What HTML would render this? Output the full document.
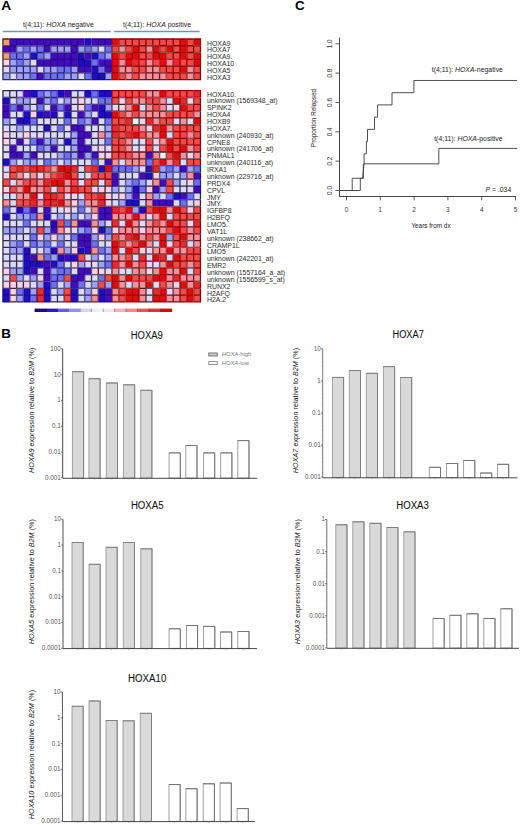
<!DOCTYPE html>
<html><head><meta charset="utf-8"><title>Figure</title>
<style>
html,body{margin:0;padding:0;background:#fff;}
body{width:520px;height:825px;overflow:hidden;font-family:"Liberation Sans", sans-serif;}
svg{display:block;font-family:"Liberation Sans", sans-serif;}
</style></head>
<body>
<svg width="520" height="825" viewBox="0 0 520 825">
<rect width="520" height="825" fill="#fff"/>
<text x="1.30" y="9.70" font-size="13.7" text-anchor="start" fill="#000" font-weight="bold" font-style="normal" >A</text>
<text x="23.00" y="27.20" font-size="6.9" text-anchor="start" fill="#222" font-weight="normal" font-style="normal" >t(4;11): <tspan font-style="italic">HOXA</tspan> negative</text>
<text x="123.00" y="27.20" font-size="6.9" text-anchor="start" fill="#222" font-weight="normal" font-style="normal" >t(4;11): <tspan font-style="italic">HOXA</tspan> positive</text>
<line x1="2.8" y1="31.5" x2="110.8" y2="31.5" stroke="#7d8fb4" stroke-width="1.3"/>
<line x1="114.2" y1="31.5" x2="199.6" y2="31.5" stroke="#7d8fb4" stroke-width="1.3"/>
<defs><filter id="hb" x="-2%" y="-2%" width="104%" height="104%"><feGaussianBlur stdDeviation="0.45"/></filter></defs>
<g filter="url(#hb)">
<path d="M2.30 38.35H9.76V45.76H2.30zM2.30 52.52H9.76V59.28H2.30z" fill="#611d00"/>
<path d="M9.76 38.35H16.57V45.76H9.76zM16.57 38.35H23.38V45.76H16.57zM23.38 38.35H30.19V45.76H23.38zM30.19 38.35H37.00V45.76H30.19zM37.00 38.35H43.81V45.76H37.00zM43.81 38.35H50.62V45.76H43.81zM50.62 38.35H57.43V45.76H50.62zM57.43 38.35H64.24V45.76H57.43zM64.24 38.35H71.05V45.76H64.24zM71.05 38.35H77.86V45.76H71.05zM77.86 38.35H84.67V45.76H77.86zM91.48 38.35H98.29V45.76H91.48zM98.29 38.35H105.10V45.76H98.29zM105.10 38.35H111.91V45.76H105.10zM2.30 45.76H9.76V52.52H2.30zM9.76 45.76H16.57V52.52H9.76zM43.81 45.76H50.62V52.52H43.81zM71.05 45.76H77.86V52.52H71.05zM50.62 52.52H57.43V59.28H50.62zM57.43 52.52H64.24V59.28H57.43zM64.24 52.52H71.05V59.28H64.24zM71.05 52.52H77.86V59.28H71.05zM84.67 52.52H91.48V59.28H84.67zM37.00 59.28H43.81V66.04H37.00zM43.81 59.28H50.62V66.04H43.81zM50.62 59.28H57.43V66.04H50.62zM57.43 59.28H64.24V66.04H57.43zM64.24 59.28H71.05V66.04H64.24zM71.05 59.28H77.86V66.04H71.05zM98.29 59.28H105.10V66.04H98.29zM105.10 59.28H111.91V66.04H105.10zM77.86 66.04H84.67V72.80H77.86zM84.67 66.04H91.48V72.80H84.67zM105.10 66.04H111.91V72.80H105.10zM37.00 72.80H43.81V80.21H37.00z" fill="#2d0191"/>
<path d="M84.67 38.35H91.48V45.76H84.67zM30.19 52.52H37.00V59.28H30.19zM77.86 52.52H84.67V59.28H77.86zM91.48 52.52H98.29V59.28H91.48zM77.86 59.28H84.67V66.04H77.86zM84.67 59.28H91.48V66.04H84.67zM91.48 66.04H98.29V72.80H91.48zM91.48 72.80H98.29V80.21H91.48zM98.29 72.80H105.10V80.21H98.29z" fill="#120496"/>
<path d="M111.91 38.35H118.72V45.76H111.91zM180.01 38.35H186.82V45.76H180.01zM193.63 38.35H201.09V45.76H193.63zM132.34 45.76H139.15V52.52H132.34zM152.77 45.76H159.58V52.52H152.77zM166.39 45.76H173.20V52.52H166.39zM180.01 45.76H186.82V52.52H180.01zM111.91 52.52H118.72V59.28H111.91zM125.53 52.52H132.34V59.28H125.53zM132.34 52.52H139.15V59.28H132.34zM152.77 52.52H159.58V59.28H152.77zM159.58 52.52H166.39V59.28H159.58zM180.01 52.52H186.82V59.28H180.01zM193.63 52.52H201.09V59.28H193.63zM111.91 59.28H118.72V66.04H111.91zM125.53 59.28H132.34V66.04H125.53zM159.58 59.28H166.39V66.04H159.58zM193.63 59.28H201.09V66.04H193.63zM111.91 66.04H118.72V72.80H111.91zM180.01 66.04H186.82V72.80H180.01zM111.91 72.80H118.72V80.21H111.91z" fill="#a90000"/>
<path d="M118.72 38.35H125.53V45.76H118.72zM125.53 38.35H132.34V45.76H125.53zM132.34 38.35H139.15V45.76H132.34zM139.15 38.35H145.96V45.76H139.15zM145.96 38.35H152.77V45.76H145.96zM152.77 38.35H159.58V45.76H152.77zM159.58 38.35H166.39V45.76H159.58zM166.39 38.35H173.20V45.76H166.39zM173.20 38.35H180.01V45.76H173.20zM186.82 38.35H193.63V45.76H186.82zM111.91 45.76H118.72V52.52H111.91zM125.53 45.76H132.34V52.52H125.53zM139.15 45.76H145.96V52.52H139.15zM159.58 45.76H166.39V52.52H159.58zM173.20 45.76H180.01V52.52H173.20zM186.82 45.76H193.63V52.52H186.82zM193.63 45.76H201.09V52.52H193.63zM118.72 52.52H125.53V59.28H118.72zM139.15 52.52H145.96V59.28H139.15zM145.96 52.52H152.77V59.28H145.96zM166.39 52.52H173.20V59.28H166.39zM173.20 52.52H180.01V59.28H173.20zM186.82 52.52H193.63V59.28H186.82zM139.15 59.28H145.96V66.04H139.15zM152.77 59.28H159.58V66.04H152.77zM180.01 59.28H186.82V66.04H180.01zM186.82 59.28H193.63V66.04H186.82zM132.34 66.04H139.15V72.80H132.34zM139.15 66.04H145.96V72.80H139.15zM159.58 66.04H166.39V72.80H159.58zM166.39 66.04H173.20V72.80H166.39zM173.20 66.04H180.01V72.80H173.20zM193.63 66.04H201.09V72.80H193.63zM118.72 72.80H125.53V80.21H118.72zM132.34 72.80H139.15V80.21H132.34zM166.39 72.80H173.20V80.21H166.39zM173.20 72.80H180.01V80.21H173.20zM180.01 72.80H186.82V80.21H180.01zM193.63 72.80H201.09V80.21H193.63z" fill="#8d0404"/>
<path d="M16.57 45.76H23.38V52.52H16.57zM30.19 45.76H37.00V52.52H30.19zM50.62 45.76H57.43V52.52H50.62zM57.43 45.76H64.24V52.52H57.43zM64.24 45.76H71.05V52.52H64.24zM77.86 45.76H84.67V52.52H77.86zM91.48 45.76H98.29V52.52H91.48zM23.38 52.52H30.19V59.28H23.38zM43.81 52.52H50.62V59.28H43.81zM105.10 52.52H111.91V59.28H105.10zM9.76 59.28H16.57V66.04H9.76zM23.38 59.28H30.19V66.04H23.38zM9.76 66.04H16.57V72.80H9.76zM16.57 66.04H23.38V72.80H16.57zM23.38 66.04H30.19V72.80H23.38zM30.19 66.04H37.00V72.80H30.19zM43.81 66.04H50.62V72.80H43.81zM50.62 66.04H57.43V72.80H50.62zM71.05 66.04H77.86V72.80H71.05zM2.30 72.80H9.76V80.21H2.30zM16.57 72.80H23.38V80.21H16.57zM23.38 72.80H30.19V80.21H23.38zM64.24 72.80H71.05V80.21H64.24zM71.05 72.80H77.86V80.21H71.05zM105.10 72.80H111.91V80.21H105.10z" fill="#25256e"/>
<path d="M23.38 45.76H30.19V52.52H23.38zM37.00 45.76H43.81V52.52H37.00zM84.67 45.76H91.48V52.52H84.67zM105.10 45.76H111.91V52.52H105.10zM9.76 52.52H16.57V59.28H9.76zM16.57 52.52H23.38V59.28H16.57zM37.00 52.52H43.81V59.28H37.00zM98.29 52.52H105.10V59.28H98.29zM16.57 59.28H23.38V66.04H16.57zM91.48 59.28H98.29V66.04H91.48zM57.43 66.04H64.24V72.80H57.43zM64.24 66.04H71.05V72.80H64.24zM98.29 66.04H105.10V72.80H98.29zM30.19 72.80H37.00V80.21H30.19zM43.81 72.80H50.62V80.21H43.81zM50.62 72.80H57.43V80.21H50.62zM57.43 72.80H64.24V80.21H57.43zM84.67 72.80H91.48V80.21H84.67z" fill="#21218c"/>
<path d="M98.29 45.76H105.10V52.52H98.29zM30.19 59.28H37.00V66.04H30.19zM2.30 66.04H9.76V72.80H2.30zM37.00 66.04H43.81V72.80H37.00zM9.76 72.80H16.57V80.21H9.76zM77.86 72.80H84.67V80.21H77.86z" fill="#2b2945"/>
<path d="M118.72 45.76H125.53V52.52H118.72zM145.96 45.76H152.77V52.52H145.96zM118.72 59.28H125.53V66.04H118.72zM145.96 59.28H152.77V66.04H145.96zM166.39 59.28H173.20V66.04H166.39zM118.72 66.04H125.53V72.80H118.72zM125.53 66.04H132.34V72.80H125.53zM145.96 66.04H152.77V72.80H145.96zM152.77 66.04H159.58V72.80H152.77zM186.82 66.04H193.63V72.80H186.82zM125.53 72.80H132.34V80.21H125.53zM139.15 72.80H145.96V80.21H139.15zM145.96 72.80H152.77V80.21H145.96zM152.77 72.80H159.58V80.21H152.77zM159.58 72.80H166.39V80.21H159.58zM186.82 72.80H193.63V80.21H186.82z" fill="#68131b"/>
<path d="M2.30 59.28H9.76V66.04H2.30z" fill="#402236"/>
<path d="M132.34 59.28H139.15V66.04H132.34zM173.20 59.28H180.01V66.04H173.20z" fill="#9b0001"/>
<path d="M3.60 39.65H9.11V45.11H3.60zM3.60 53.17H9.11V58.63H3.60z" fill="#f0a070"/>
<path d="M10.41 39.65H15.92V45.11H10.41zM17.22 39.65H22.73V45.11H17.22zM24.03 39.65H29.54V45.11H24.03zM30.84 39.65H36.35V45.11H30.84zM37.65 39.65H43.16V45.11H37.65zM44.46 39.65H49.97V45.11H44.46zM51.27 39.65H56.78V45.11H51.27zM58.08 39.65H63.59V45.11H58.08zM64.89 39.65H70.40V45.11H64.89zM71.70 39.65H77.21V45.11H71.70zM78.51 39.65H84.02V45.11H78.51zM92.13 39.65H97.64V45.11H92.13zM98.94 39.65H104.45V45.11H98.94zM105.75 39.65H111.26V45.11H105.75zM3.60 46.41H9.11V51.87H3.60zM10.41 46.41H15.92V51.87H10.41zM44.46 46.41H49.97V51.87H44.46zM71.70 46.41H77.21V51.87H71.70zM51.27 53.17H56.78V58.63H51.27zM58.08 53.17H63.59V58.63H58.08zM64.89 53.17H70.40V58.63H64.89zM71.70 53.17H77.21V58.63H71.70zM85.32 53.17H90.83V58.63H85.32zM37.65 59.93H43.16V65.39H37.65zM44.46 59.93H49.97V65.39H44.46zM51.27 59.93H56.78V65.39H51.27zM58.08 59.93H63.59V65.39H58.08zM64.89 59.93H70.40V65.39H64.89zM71.70 59.93H77.21V65.39H71.70zM98.94 59.93H104.45V65.39H98.94zM105.75 59.93H111.26V65.39H105.75zM78.51 66.69H84.02V72.15H78.51zM85.32 66.69H90.83V72.15H85.32zM105.75 66.69H111.26V72.15H105.75zM37.65 73.45H43.16V78.91H37.65z" fill="#420fb8"/>
<path d="M85.32 39.65H90.83V45.11H85.32zM30.84 53.17H36.35V58.63H30.84zM78.51 53.17H84.02V58.63H78.51zM92.13 53.17H97.64V58.63H92.13zM78.51 59.93H84.02V65.39H78.51zM85.32 59.93H90.83V65.39H85.32zM92.13 66.69H97.64V72.15H92.13zM92.13 73.45H97.64V78.91H92.13zM98.94 73.45H104.45V78.91H98.94z" fill="#2010bc"/>
<path d="M112.56 39.65H118.07V45.11H112.56zM180.66 39.65H186.17V45.11H180.66zM194.28 39.65H199.79V45.11H194.28zM132.99 46.41H138.50V51.87H132.99zM153.42 46.41H158.93V51.87H153.42zM167.04 46.41H172.55V51.87H167.04zM180.66 46.41H186.17V51.87H180.66zM112.56 53.17H118.07V58.63H112.56zM126.18 53.17H131.69V58.63H126.18zM132.99 53.17H138.50V58.63H132.99zM153.42 53.17H158.93V58.63H153.42zM160.23 53.17H165.74V58.63H160.23zM180.66 53.17H186.17V58.63H180.66zM194.28 53.17H199.79V58.63H194.28zM112.56 59.93H118.07V65.39H112.56zM126.18 59.93H131.69V65.39H126.18zM160.23 59.93H165.74V65.39H160.23zM194.28 59.93H199.79V65.39H194.28zM112.56 66.69H118.07V72.15H112.56zM180.66 66.69H186.17V72.15H180.66zM112.56 73.45H118.07V78.91H112.56z" fill="#dc0c10"/>
<path d="M119.37 39.65H124.88V45.11H119.37zM126.18 39.65H131.69V45.11H126.18zM132.99 39.65H138.50V45.11H132.99zM139.80 39.65H145.31V45.11H139.80zM146.61 39.65H152.12V45.11H146.61zM153.42 39.65H158.93V45.11H153.42zM160.23 39.65H165.74V45.11H160.23zM167.04 39.65H172.55V45.11H167.04zM173.85 39.65H179.36V45.11H173.85zM187.47 39.65H192.98V45.11H187.47zM112.56 46.41H118.07V51.87H112.56zM126.18 46.41H131.69V51.87H126.18zM139.80 46.41H145.31V51.87H139.80zM160.23 46.41H165.74V51.87H160.23zM173.85 46.41H179.36V51.87H173.85zM187.47 46.41H192.98V51.87H187.47zM194.28 46.41H199.79V51.87H194.28zM119.37 53.17H124.88V58.63H119.37zM139.80 53.17H145.31V58.63H139.80zM146.61 53.17H152.12V58.63H146.61zM167.04 53.17H172.55V58.63H167.04zM173.85 53.17H179.36V58.63H173.85zM187.47 53.17H192.98V58.63H187.47zM139.80 59.93H145.31V65.39H139.80zM153.42 59.93H158.93V65.39H153.42zM180.66 59.93H186.17V65.39H180.66zM187.47 59.93H192.98V65.39H187.47zM132.99 66.69H138.50V72.15H132.99zM139.80 66.69H145.31V72.15H139.80zM160.23 66.69H165.74V72.15H160.23zM167.04 66.69H172.55V72.15H167.04zM173.85 66.69H179.36V72.15H173.85zM194.28 66.69H199.79V72.15H194.28zM119.37 73.45H124.88V78.91H119.37zM132.99 73.45H138.50V78.91H132.99zM167.04 73.45H172.55V78.91H167.04zM173.85 73.45H179.36V78.91H173.85zM180.66 73.45H186.17V78.91H180.66zM194.28 73.45H199.79V78.91H194.28z" fill="#ee4c4c"/>
<path d="M17.22 46.41H22.73V51.87H17.22zM30.84 46.41H36.35V51.87H30.84zM51.27 46.41H56.78V51.87H51.27zM58.08 46.41H63.59V51.87H58.08zM64.89 46.41H70.40V51.87H64.89zM78.51 46.41H84.02V51.87H78.51zM92.13 46.41H97.64V51.87H92.13zM24.03 53.17H29.54V58.63H24.03zM44.46 53.17H49.97V58.63H44.46zM105.75 53.17H111.26V58.63H105.75zM10.41 59.93H15.92V65.39H10.41zM24.03 59.93H29.54V65.39H24.03zM10.41 66.69H15.92V72.15H10.41zM17.22 66.69H22.73V72.15H17.22zM24.03 66.69H29.54V72.15H24.03zM30.84 66.69H36.35V72.15H30.84zM44.46 66.69H49.97V72.15H44.46zM51.27 66.69H56.78V72.15H51.27zM71.70 66.69H77.21V72.15H71.70zM3.60 73.45H9.11V78.91H3.60zM17.22 73.45H22.73V78.91H17.22zM24.03 73.45H29.54V78.91H24.03zM64.89 73.45H70.40V78.91H64.89zM71.70 73.45H77.21V78.91H71.70zM105.75 73.45H111.26V78.91H105.75z" fill="#a0a0f6"/>
<path d="M24.03 46.41H29.54V51.87H24.03zM37.65 46.41H43.16V51.87H37.65zM85.32 46.41H90.83V51.87H85.32zM105.75 46.41H111.26V51.87H105.75zM10.41 53.17H15.92V58.63H10.41zM17.22 53.17H22.73V58.63H17.22zM37.65 53.17H43.16V58.63H37.65zM98.94 53.17H104.45V58.63H98.94zM17.22 59.93H22.73V65.39H17.22zM92.13 59.93H97.64V65.39H92.13zM58.08 66.69H63.59V72.15H58.08zM64.89 66.69H70.40V72.15H64.89zM98.94 66.69H104.45V72.15H98.94zM30.84 73.45H36.35V78.91H30.84zM44.46 73.45H49.97V78.91H44.46zM51.27 73.45H56.78V78.91H51.27zM58.08 73.45H63.59V78.91H58.08zM85.32 73.45H90.83V78.91H85.32z" fill="#7070ee"/>
<path d="M98.94 46.41H104.45V51.87H98.94zM30.84 59.93H36.35V65.39H30.84zM3.60 66.69H9.11V72.15H3.60zM37.65 66.69H43.16V72.15H37.65zM10.41 73.45H15.92V78.91H10.41zM78.51 73.45H84.02V78.91H78.51z" fill="#dcdafa"/>
<path d="M119.37 46.41H124.88V51.87H119.37zM146.61 46.41H152.12V51.87H146.61zM119.37 59.93H124.88V65.39H119.37zM146.61 59.93H152.12V65.39H146.61zM167.04 59.93H172.55V65.39H167.04zM119.37 66.69H124.88V72.15H119.37zM126.18 66.69H131.69V72.15H126.18zM146.61 66.69H152.12V72.15H146.61zM153.42 66.69H158.93V72.15H153.42zM187.47 66.69H192.98V72.15H187.47zM126.18 73.45H131.69V78.91H126.18zM139.80 73.45H145.31V78.91H139.80zM146.61 73.45H152.12V78.91H146.61zM153.42 73.45H158.93V78.91H153.42zM160.23 73.45H165.74V78.91H160.23zM187.47 73.45H192.98V78.91H187.47z" fill="#f4909a"/>
<path d="M3.60 59.93H9.11V65.39H3.60z" fill="#f6d2ea"/>
<path d="M132.99 59.93H138.50V65.39H132.99zM173.85 59.93H179.36V65.39H173.85z" fill="#e42a2e"/>
<path d="M2.30 90.05H9.76V97.51H2.30zM9.76 90.05H16.57V97.51H9.76zM16.57 90.05H23.38V97.51H16.57zM71.05 90.05H77.86V97.51H71.05zM77.86 90.05H84.67V97.51H77.86zM9.76 97.51H16.57V104.33H9.76zM30.19 97.51H37.00V104.33H30.19zM57.43 97.51H64.24V104.33H57.43zM71.05 97.51H77.86V104.33H71.05zM84.67 97.51H91.48V104.33H84.67zM91.48 97.51H98.29V104.33H91.48zM166.39 97.51H173.20V104.33H166.39zM30.19 104.33H37.00V111.14H30.19zM43.81 104.33H50.62V111.14H43.81zM71.05 104.33H77.86V111.14H71.05zM139.15 104.33H145.96V111.14H139.15zM166.39 104.33H173.20V111.14H166.39zM9.76 111.14H16.57V117.95H9.76zM16.57 111.14H23.38V117.95H16.57zM57.43 111.14H64.24V117.95H57.43zM71.05 111.14H77.86V117.95H71.05zM91.48 111.14H98.29V117.95H91.48zM9.76 117.95H16.57V124.77H9.76zM37.00 117.95H43.81V124.77H37.00zM43.81 117.95H50.62V124.77H43.81zM50.62 117.95H57.43V124.77H50.62zM57.43 117.95H64.24V124.77H57.43zM71.05 117.95H77.86V124.77H71.05zM98.29 117.95H105.10V124.77H98.29zM2.30 124.77H9.76V131.58H2.30zM9.76 124.77H16.57V131.58H9.76zM23.38 124.77H30.19V131.58H23.38zM30.19 124.77H37.00V131.58H30.19zM37.00 124.77H43.81V131.58H37.00zM50.62 124.77H57.43V131.58H50.62zM64.24 124.77H71.05V131.58H64.24zM84.67 124.77H91.48V131.58H84.67zM91.48 124.77H98.29V131.58H91.48zM98.29 124.77H105.10V131.58H98.29zM9.76 131.58H16.57V138.39H9.76zM16.57 131.58H23.38V138.39H16.57zM30.19 131.58H37.00V138.39H30.19zM37.00 131.58H43.81V138.39H37.00zM43.81 131.58H50.62V138.39H43.81zM50.62 131.58H57.43V138.39H50.62zM57.43 131.58H64.24V138.39H57.43zM64.24 131.58H71.05V138.39H64.24zM91.48 131.58H98.29V138.39H91.48zM166.39 131.58H173.20V138.39H166.39zM9.76 138.39H16.57V145.20H9.76zM23.38 138.39H30.19V145.20H23.38zM57.43 138.39H64.24V145.20H57.43zM84.67 138.39H91.48V145.20H84.67zM91.48 138.39H98.29V145.20H91.48zM98.29 138.39H105.10V145.20H98.29zM132.34 138.39H139.15V145.20H132.34zM139.15 138.39H145.96V145.20H139.15zM2.30 145.20H9.76V152.02H2.30zM16.57 145.20H23.38V152.02H16.57zM23.38 145.20H30.19V152.02H23.38zM30.19 145.20H37.00V152.02H30.19zM57.43 145.20H64.24V152.02H57.43zM64.24 145.20H71.05V152.02H64.24zM91.48 145.20H98.29V152.02H91.48zM105.10 145.20H111.91V152.02H105.10zM132.34 145.20H139.15V152.02H132.34zM152.77 145.20H159.58V152.02H152.77zM2.30 152.02H9.76V158.83H2.30zM37.00 152.02H43.81V158.83H37.00zM43.81 152.02H50.62V158.83H43.81zM50.62 152.02H57.43V158.83H50.62zM16.57 158.83H23.38V165.64H16.57zM37.00 158.83H43.81V165.64H37.00zM57.43 158.83H64.24V165.64H57.43zM71.05 158.83H77.86V165.64H71.05zM77.86 158.83H84.67V165.64H77.86zM84.67 158.83H91.48V165.64H84.67zM98.29 158.83H105.10V165.64H98.29zM118.72 158.83H125.53V165.64H118.72zM180.01 158.83H186.82V165.64H180.01zM2.30 165.64H9.76V172.46H2.30zM77.86 165.64H84.67V172.46H77.86zM139.15 165.64H145.96V172.46H139.15zM77.86 172.46H84.67V179.27H77.86zM118.72 172.46H125.53V179.27H118.72zM125.53 172.46H132.34V179.27H125.53zM132.34 172.46H139.15V179.27H132.34zM173.20 172.46H180.01V179.27H173.20zM9.76 179.27H16.57V186.08H9.76zM77.86 179.27H84.67V186.08H77.86zM98.29 179.27H105.10V186.08H98.29zM118.72 179.27H125.53V186.08H118.72zM145.96 179.27H152.77V186.08H145.96zM180.01 179.27H186.82V186.08H180.01zM50.62 186.08H57.43V192.89H50.62zM91.48 186.08H98.29V192.89H91.48zM118.72 186.08H125.53V192.89H118.72zM173.20 186.08H180.01V192.89H173.20zM180.01 186.08H186.82V192.89H180.01zM186.82 186.08H193.63V192.89H186.82zM2.30 192.89H9.76V199.71H2.30zM9.76 192.89H16.57V199.71H9.76zM77.86 192.89H84.67V199.71H77.86zM111.91 192.89H118.72V199.71H111.91zM139.15 192.89H145.96V199.71H139.15zM159.58 192.89H166.39V199.71H159.58zM193.63 192.89H201.09V199.71H193.63zM9.76 199.71H16.57V206.52H9.76zM111.91 199.71H118.72V206.52H111.91zM139.15 199.71H145.96V206.52H139.15zM173.20 199.71H180.01V206.52H173.20zM186.82 199.71H193.63V206.52H186.82zM9.76 206.52H16.57V213.33H9.76zM37.00 206.52H43.81V213.33H37.00zM50.62 206.52H57.43V213.33H50.62zM57.43 206.52H64.24V213.33H57.43zM71.05 206.52H77.86V213.33H71.05zM84.67 206.52H91.48V213.33H84.67zM9.76 213.33H16.57V220.15H9.76zM50.62 213.33H57.43V220.15H50.62zM64.24 213.33H71.05V220.15H64.24zM77.86 213.33H84.67V220.15H77.86zM145.96 213.33H152.77V220.15H145.96zM166.39 213.33H173.20V220.15H166.39zM2.30 220.15H9.76V226.96H2.30zM9.76 220.15H16.57V226.96H9.76zM16.57 220.15H23.38V226.96H16.57zM30.19 220.15H37.00V226.96H30.19zM37.00 220.15H43.81V226.96H37.00zM43.81 220.15H50.62V226.96H43.81zM105.10 220.15H111.91V226.96H105.10zM118.72 220.15H125.53V226.96H118.72zM139.15 220.15H145.96V226.96H139.15zM23.38 226.96H30.19V233.77H23.38zM71.05 226.96H77.86V233.77H71.05zM2.30 233.77H9.76V240.59H2.30zM9.76 233.77H16.57V240.59H9.76zM16.57 233.77H23.38V240.59H16.57zM23.38 233.77H30.19V240.59H23.38zM64.24 233.77H71.05V240.59H64.24zM2.30 240.59H9.76V247.40H2.30zM23.38 240.59H30.19V247.40H23.38zM50.62 240.59H57.43V247.40H50.62zM64.24 240.59H71.05V247.40H64.24zM71.05 240.59H77.86V247.40H71.05zM98.29 240.59H105.10V247.40H98.29zM105.10 240.59H111.91V247.40H105.10zM152.77 240.59H159.58V247.40H152.77zM186.82 240.59H193.63V247.40H186.82zM2.30 247.40H9.76V254.21H2.30zM30.19 247.40H37.00V254.21H30.19zM37.00 247.40H43.81V254.21H37.00zM118.72 247.40H125.53V254.21H118.72zM2.30 254.21H9.76V261.02H2.30zM9.76 254.21H16.57V261.02H9.76zM16.57 254.21H23.38V261.02H16.57zM84.67 254.21H91.48V261.02H84.67zM98.29 254.21H105.10V261.02H98.29zM132.34 254.21H139.15V261.02H132.34zM145.96 254.21H152.77V261.02H145.96zM166.39 254.21H173.20V261.02H166.39zM2.30 261.02H9.76V267.84H2.30zM9.76 261.02H16.57V267.84H9.76zM16.57 261.02H23.38V267.84H16.57zM64.24 261.02H71.05V267.84H64.24zM84.67 261.02H91.48V267.84H84.67zM91.48 261.02H98.29V267.84H91.48zM152.77 261.02H159.58V267.84H152.77zM37.00 267.84H43.81V274.65H37.00zM71.05 267.84H77.86V274.65H71.05zM105.10 267.84H111.91V274.65H105.10zM125.53 267.84H132.34V274.65H125.53zM186.82 267.84H193.63V274.65H186.82zM2.30 274.65H9.76V281.46H2.30zM23.38 274.65H30.19V281.46H23.38zM84.67 274.65H91.48V281.46H84.67zM91.48 274.65H98.29V281.46H91.48zM30.19 281.46H37.00V288.28H30.19zM57.43 281.46H64.24V288.28H57.43zM84.67 281.46H91.48V288.28H84.67zM125.53 281.46H132.34V288.28H125.53zM152.77 281.46H159.58V288.28H152.77zM50.62 288.28H57.43V295.09H50.62zM77.86 288.28H84.67V295.09H77.86zM145.96 288.28H152.77V295.09H145.96zM50.62 295.09H57.43V302.55H50.62zM57.43 295.09H64.24V302.55H57.43zM77.86 295.09H84.67V302.55H77.86zM145.96 295.09H152.77V302.55H145.96z" fill="#2b2945"/>
<path d="M23.38 90.05H30.19V97.51H23.38zM64.24 90.05H71.05V97.51H64.24zM37.00 97.51H43.81V104.33H37.00zM2.30 104.33H9.76V111.14H2.30zM16.57 104.33H23.38V111.14H16.57zM50.62 104.33H57.43V111.14H50.62zM64.24 104.33H71.05V111.14H64.24zM91.48 104.33H98.29V111.14H91.48zM2.30 111.14H9.76V117.95H2.30zM43.81 111.14H50.62V117.95H43.81zM77.86 111.14H84.67V117.95H77.86zM91.48 117.95H98.29V124.77H91.48zM71.05 124.77H77.86V131.58H71.05zM77.86 124.77H84.67V131.58H77.86zM77.86 131.58H84.67V138.39H77.86zM84.67 131.58H91.48V138.39H84.67zM16.57 138.39H23.38V145.20H16.57zM37.00 138.39H43.81V145.20H37.00zM77.86 138.39H84.67V145.20H77.86zM9.76 145.20H16.57V152.02H9.76zM50.62 145.20H57.43V152.02H50.62zM77.86 145.20H84.67V152.02H77.86zM84.67 145.20H91.48V152.02H84.67zM9.76 152.02H16.57V158.83H9.76zM16.57 152.02H23.38V158.83H16.57zM30.19 152.02H37.00V158.83H30.19zM77.86 152.02H84.67V158.83H77.86zM91.48 152.02H98.29V158.83H91.48zM145.96 152.02H152.77V158.83H145.96zM105.10 158.83H111.91V165.64H105.10zM145.96 165.64H152.77V172.46H145.96zM180.01 165.64H186.82V172.46H180.01zM111.91 172.46H118.72V179.27H111.91zM139.15 172.46H145.96V179.27H139.15zM193.63 172.46H201.09V179.27H193.63zM111.91 179.27H118.72V186.08H111.91zM159.58 179.27H166.39V186.08H159.58zM152.77 186.08H159.58V192.89H152.77zM193.63 186.08H201.09V192.89H193.63zM132.34 192.89H139.15V199.71H132.34zM180.01 192.89H186.82V199.71H180.01zM152.77 199.71H159.58V206.52H152.77zM159.58 199.71H166.39V206.52H159.58zM166.39 199.71H173.20V206.52H166.39zM30.19 206.52H37.00V213.33H30.19zM43.81 206.52H50.62V213.33H43.81zM98.29 206.52H105.10V213.33H98.29zM105.10 206.52H111.91V213.33H105.10zM98.29 213.33H105.10V220.15H98.29zM105.10 213.33H111.91V220.15H105.10zM77.86 220.15H84.67V226.96H77.86zM84.67 220.15H91.48V226.96H84.67zM50.62 226.96H57.43V233.77H50.62zM77.86 233.77H84.67V240.59H77.86zM84.67 233.77H91.48V240.59H84.67zM77.86 240.59H84.67V247.40H77.86zM84.67 240.59H91.48V247.40H84.67zM84.67 247.40H91.48V254.21H84.67zM30.19 254.21H37.00V261.02H30.19zM64.24 254.21H71.05V261.02H64.24zM43.81 261.02H50.62V267.84H43.81zM30.19 267.84H37.00V274.65H30.19zM43.81 267.84H50.62V274.65H43.81zM77.86 267.84H84.67V274.65H77.86zM84.67 267.84H91.48V274.65H84.67zM43.81 274.65H50.62V281.46H43.81zM71.05 274.65H77.86V281.46H71.05zM77.86 274.65H84.67V281.46H77.86zM71.05 281.46H77.86V288.28H71.05zM105.10 288.28H111.91V295.09H105.10zM105.10 295.09H111.91V302.55H105.10z" fill="#2d0191"/>
<path d="M30.19 90.05H37.00V97.51H30.19zM57.43 90.05H64.24V97.51H57.43zM84.67 90.05H91.48V97.51H84.67zM98.29 90.05H105.10V97.51H98.29zM105.10 90.05H111.91V97.51H105.10zM2.30 97.51H9.76V104.33H2.30zM98.29 104.33H105.10V111.14H98.29zM23.38 111.14H30.19V117.95H23.38zM37.00 111.14H43.81V117.95H37.00zM50.62 111.14H57.43V117.95H50.62zM64.24 111.14H71.05V117.95H64.24zM98.29 111.14H105.10V117.95H98.29zM105.10 111.14H111.91V117.95H105.10zM16.57 117.95H23.38V124.77H16.57zM23.38 117.95H30.19V124.77H23.38zM43.81 124.77H50.62V131.58H43.81zM64.24 138.39H71.05V145.20H64.24zM2.30 158.83H9.76V165.64H2.30zM98.29 165.64H105.10V172.46H98.29zM145.96 172.46H152.77V179.27H145.96zM132.34 186.08H139.15V192.89H132.34zM173.20 192.89H180.01V199.71H173.20zM125.53 199.71H132.34V206.52H125.53zM132.34 199.71H139.15V206.52H132.34zM16.57 206.52H23.38V213.33H16.57zM139.15 206.52H145.96V213.33H139.15zM2.30 213.33H9.76V220.15H2.30zM43.81 213.33H50.62V220.15H43.81zM50.62 220.15H57.43V226.96H50.62zM98.29 226.96H105.10V233.77H98.29zM23.38 247.40H30.19V254.21H23.38zM50.62 247.40H57.43V254.21H50.62zM77.86 247.40H84.67V254.21H77.86zM23.38 254.21H30.19V261.02H23.38zM57.43 254.21H64.24V261.02H57.43zM71.05 254.21H77.86V261.02H71.05zM23.38 261.02H30.19V267.84H23.38zM30.19 261.02H37.00V267.84H30.19zM37.00 261.02H43.81V267.84H37.00zM50.62 261.02H57.43V267.84H50.62zM23.38 267.84H30.19V274.65H23.38zM43.81 281.46H50.62V288.28H43.81zM2.30 288.28H9.76V295.09H2.30zM23.38 288.28H30.19V295.09H23.38zM43.81 288.28H50.62V295.09H43.81zM71.05 288.28H77.86V295.09H71.05zM98.29 288.28H105.10V295.09H98.29zM2.30 295.09H9.76V302.55H2.30zM23.38 295.09H30.19V302.55H23.38zM43.81 295.09H50.62V302.55H43.81zM71.05 295.09H77.86V302.55H71.05zM98.29 295.09H105.10V302.55H98.29z" fill="#120496"/>
<path d="M37.00 90.05H43.81V97.51H37.00zM50.62 90.05H57.43V97.51H50.62zM91.48 90.05H98.29V97.51H91.48zM50.62 97.51H57.43V104.33H50.62zM98.29 97.51H105.10V104.33H98.29zM105.10 97.51H111.91V104.33H105.10zM9.76 104.33H16.57V111.14H9.76zM37.00 104.33H43.81V111.14H37.00zM57.43 104.33H64.24V111.14H57.43zM84.67 104.33H91.48V111.14H84.67zM30.19 117.95H37.00V124.77H30.19zM64.24 117.95H71.05V124.77H64.24zM77.86 117.95H84.67V124.77H77.86zM105.10 117.95H111.91V124.77H105.10zM57.43 124.77H64.24V131.58H57.43zM30.19 138.39H37.00V145.20H30.19zM105.10 138.39H111.91V145.20H105.10zM37.00 145.20H43.81V152.02H37.00zM64.24 152.02H71.05V158.83H64.24zM43.81 158.83H50.62V165.64H43.81zM91.48 158.83H98.29V165.64H91.48zM145.96 158.83H152.77V165.64H145.96zM111.91 165.64H118.72V172.46H111.91zM118.72 165.64H125.53V172.46H118.72zM125.53 165.64H132.34V172.46H125.53zM166.39 165.64H173.20V172.46H166.39zM193.63 165.64H201.09V172.46H193.63zM132.34 179.27H139.15V186.08H132.34zM193.63 179.27H201.09V186.08H193.63zM139.15 186.08H145.96V192.89H139.15zM166.39 192.89H173.20V199.71H166.39zM186.82 192.89H193.63V199.71H186.82zM180.01 199.71H186.82V206.52H180.01zM2.30 206.52H9.76V213.33H2.30zM23.38 206.52H30.19V213.33H23.38zM77.86 206.52H84.67V213.33H77.86zM30.19 213.33H37.00V220.15H30.19zM23.38 220.15H30.19V226.96H23.38zM64.24 220.15H71.05V226.96H64.24zM84.67 226.96H91.48V233.77H84.67zM105.10 226.96H111.91V233.77H105.10zM30.19 233.77H37.00V240.59H30.19zM71.05 233.77H77.86V240.59H71.05zM16.57 240.59H23.38V247.40H16.57zM30.19 240.59H37.00V247.40H30.19zM43.81 240.59H50.62V247.40H43.81zM57.43 240.59H64.24V247.40H57.43zM91.48 240.59H98.29V247.40H91.48zM98.29 247.40H105.10V254.21H98.29zM43.81 254.21H50.62V261.02H43.81zM57.43 261.02H64.24V267.84H57.43zM105.10 261.02H111.91V267.84H105.10zM57.43 267.84H64.24V274.65H57.43zM64.24 267.84H71.05V274.65H64.24zM50.62 274.65H57.43V281.46H50.62zM57.43 274.65H64.24V281.46H57.43zM98.29 274.65H105.10V281.46H98.29zM50.62 281.46H57.43V288.28H50.62zM77.86 281.46H84.67V288.28H77.86zM16.57 288.28H23.38V295.09H16.57zM30.19 295.09H37.00V302.55H30.19z" fill="#21218c"/>
<path d="M43.81 90.05H50.62V97.51H43.81zM16.57 97.51H23.38V104.33H16.57zM23.38 97.51H30.19V104.33H23.38zM43.81 97.51H50.62V104.33H43.81zM64.24 97.51H71.05V104.33H64.24zM23.38 104.33H30.19V111.14H23.38zM105.10 104.33H111.91V111.14H105.10zM84.67 111.14H91.48V117.95H84.67zM2.30 117.95H9.76V124.77H2.30zM84.67 117.95H91.48V124.77H84.67zM16.57 124.77H23.38V131.58H16.57zM105.10 124.77H111.91V131.58H105.10zM71.05 131.58H77.86V138.39H71.05zM105.10 131.58H111.91V138.39H105.10zM43.81 138.39H50.62V145.20H43.81zM50.62 138.39H57.43V145.20H50.62zM71.05 138.39H77.86V145.20H71.05zM43.81 145.20H50.62V152.02H43.81zM71.05 145.20H77.86V152.02H71.05zM23.38 152.02H30.19V158.83H23.38zM57.43 152.02H64.24V158.83H57.43zM71.05 152.02H77.86V158.83H71.05zM84.67 152.02H91.48V158.83H84.67zM9.76 158.83H16.57V165.64H9.76zM23.38 158.83H30.19V165.64H23.38zM30.19 158.83H37.00V165.64H30.19zM50.62 158.83H57.43V165.64H50.62zM64.24 158.83H71.05V165.64H64.24zM132.34 165.64H139.15V172.46H132.34zM159.58 165.64H166.39V172.46H159.58zM173.20 165.64H180.01V172.46H173.20zM186.82 165.64H193.63V172.46H186.82zM159.58 172.46H166.39V179.27H159.58zM166.39 172.46H173.20V179.27H166.39zM180.01 172.46H186.82V179.27H180.01zM125.53 179.27H132.34V186.08H125.53zM139.15 179.27H145.96V186.08H139.15zM173.20 179.27H180.01V186.08H173.20zM111.91 186.08H118.72V192.89H111.91zM125.53 186.08H132.34V192.89H125.53zM159.58 186.08H166.39V192.89H159.58zM125.53 192.89H132.34V199.71H125.53zM152.77 192.89H159.58V199.71H152.77zM77.86 199.71H84.67V206.52H77.86zM118.72 199.71H125.53V206.52H118.72zM132.34 206.52H139.15V213.33H132.34zM16.57 213.33H23.38V220.15H16.57zM23.38 213.33H30.19V220.15H23.38zM57.43 213.33H64.24V220.15H57.43zM71.05 213.33H77.86V220.15H71.05zM84.67 213.33H91.48V220.15H84.67zM98.29 220.15H105.10V226.96H98.29zM2.30 226.96H9.76V233.77H2.30zM9.76 226.96H16.57V233.77H9.76zM16.57 226.96H23.38V233.77H16.57zM30.19 226.96H37.00V233.77H30.19zM43.81 226.96H50.62V233.77H43.81zM77.86 226.96H84.67V233.77H77.86zM43.81 233.77H50.62V240.59H43.81zM57.43 233.77H64.24V240.59H57.43zM91.48 233.77H98.29V240.59H91.48zM105.10 233.77H111.91V240.59H105.10zM166.39 233.77H173.20V240.59H166.39zM9.76 240.59H16.57V247.40H9.76zM37.00 240.59H43.81V247.40H37.00zM9.76 247.40H16.57V254.21H9.76zM16.57 247.40H23.38V254.21H16.57zM43.81 247.40H50.62V254.21H43.81zM64.24 247.40H71.05V254.21H64.24zM105.10 247.40H111.91V254.21H105.10zM50.62 254.21H57.43V261.02H50.62zM91.48 254.21H98.29V261.02H91.48zM105.10 254.21H111.91V261.02H105.10zM77.86 261.02H84.67V267.84H77.86zM98.29 261.02H105.10V267.84H98.29zM9.76 267.84H16.57V274.65H9.76zM16.57 267.84H23.38V274.65H16.57zM50.62 267.84H57.43V274.65H50.62zM16.57 274.65H23.38V281.46H16.57zM30.19 274.65H37.00V281.46H30.19zM37.00 281.46H43.81V288.28H37.00zM64.24 281.46H71.05V288.28H64.24zM91.48 281.46H98.29V288.28H91.48zM105.10 281.46H111.91V288.28H105.10zM30.19 288.28H37.00V295.09H30.19zM57.43 288.28H64.24V295.09H57.43zM84.67 288.28H91.48V295.09H84.67zM16.57 295.09H23.38V302.55H16.57zM84.67 295.09H91.48V302.55H84.67z" fill="#25256e"/>
<path d="M111.91 90.05H118.72V97.51H111.91zM118.72 90.05H125.53V97.51H118.72zM125.53 90.05H132.34V97.51H125.53zM132.34 90.05H139.15V97.51H132.34zM139.15 90.05H145.96V97.51H139.15zM166.39 90.05H173.20V97.51H166.39zM173.20 90.05H180.01V97.51H173.20zM180.01 90.05H186.82V97.51H180.01zM186.82 90.05H193.63V97.51H186.82zM111.91 97.51H118.72V104.33H111.91zM125.53 97.51H132.34V104.33H125.53zM145.96 97.51H152.77V104.33H145.96zM152.77 97.51H159.58V104.33H152.77zM193.63 97.51H201.09V104.33H193.63zM152.77 104.33H159.58V111.14H152.77zM186.82 104.33H193.63V111.14H186.82zM193.63 104.33H201.09V111.14H193.63zM118.72 111.14H125.53V117.95H118.72zM132.34 111.14H139.15V117.95H132.34zM166.39 111.14H173.20V117.95H166.39zM173.20 111.14H180.01V117.95H173.20zM180.01 111.14H186.82V117.95H180.01zM186.82 111.14H193.63V117.95H186.82zM111.91 117.95H118.72V124.77H111.91zM118.72 117.95H125.53V124.77H118.72zM159.58 117.95H166.39V124.77H159.58zM166.39 117.95H173.20V124.77H166.39zM118.72 124.77H125.53V131.58H118.72zM125.53 124.77H132.34V131.58H125.53zM132.34 124.77H139.15V131.58H132.34zM173.20 124.77H180.01V131.58H173.20zM180.01 124.77H186.82V131.58H180.01zM186.82 124.77H193.63V131.58H186.82zM193.63 124.77H201.09V131.58H193.63zM118.72 131.58H125.53V138.39H118.72zM139.15 131.58H145.96V138.39H139.15zM173.20 131.58H180.01V138.39H173.20zM180.01 131.58H186.82V138.39H180.01zM193.63 131.58H201.09V138.39H193.63zM111.91 138.39H118.72V145.20H111.91zM118.72 138.39H125.53V145.20H118.72zM145.96 138.39H152.77V145.20H145.96zM173.20 138.39H180.01V145.20H173.20zM180.01 138.39H186.82V145.20H180.01zM186.82 138.39H193.63V145.20H186.82zM193.63 138.39H201.09V145.20H193.63zM111.91 145.20H118.72V152.02H111.91zM118.72 145.20H125.53V152.02H118.72zM145.96 145.20H152.77V152.02H145.96zM159.58 145.20H166.39V152.02H159.58zM173.20 145.20H180.01V152.02H173.20zM193.63 145.20H201.09V152.02H193.63zM111.91 152.02H118.72V158.83H111.91zM118.72 152.02H125.53V158.83H118.72zM125.53 152.02H132.34V158.83H125.53zM166.39 152.02H173.20V158.83H166.39zM152.77 158.83H159.58V165.64H152.77zM186.82 158.83H193.63V165.64H186.82zM193.63 158.83H201.09V165.64H193.63zM9.76 165.64H16.57V172.46H9.76zM23.38 165.64H30.19V172.46H23.38zM43.81 165.64H50.62V172.46H43.81zM84.67 165.64H91.48V172.46H84.67zM9.76 172.46H16.57V179.27H9.76zM50.62 172.46H57.43V179.27H50.62zM71.05 172.46H77.86V179.27H71.05zM91.48 172.46H98.29V179.27H91.48zM98.29 172.46H105.10V179.27H98.29zM105.10 172.46H111.91V179.27H105.10zM2.30 179.27H9.76V186.08H2.30zM23.38 179.27H30.19V186.08H23.38zM30.19 179.27H37.00V186.08H30.19zM71.05 179.27H77.86V186.08H71.05zM84.67 179.27H91.48V186.08H84.67zM91.48 179.27H98.29V186.08H91.48zM105.10 179.27H111.91V186.08H105.10zM166.39 179.27H173.20V186.08H166.39zM9.76 186.08H16.57V192.89H9.76zM43.81 186.08H50.62V192.89H43.81zM57.43 186.08H64.24V192.89H57.43zM77.86 186.08H84.67V192.89H77.86zM84.67 186.08H91.48V192.89H84.67zM166.39 186.08H173.20V192.89H166.39zM57.43 192.89H64.24V199.71H57.43zM84.67 192.89H91.48V199.71H84.67zM91.48 192.89H98.29V199.71H91.48zM16.57 199.71H23.38V206.52H16.57zM23.38 199.71H30.19V206.52H23.38zM118.72 206.52H125.53V213.33H118.72zM145.96 206.52H152.77V213.33H145.96zM180.01 206.52H186.82V213.33H180.01zM193.63 206.52H201.09V213.33H193.63zM173.20 213.33H180.01V220.15H173.20zM180.01 213.33H186.82V220.15H180.01zM186.82 213.33H193.63V220.15H186.82zM193.63 213.33H201.09V220.15H193.63zM57.43 220.15H64.24V226.96H57.43zM152.77 220.15H159.58V226.96H152.77zM173.20 220.15H180.01V226.96H173.20zM180.01 220.15H186.82V226.96H180.01zM37.00 226.96H43.81V233.77H37.00zM166.39 226.96H173.20V233.77H166.39zM180.01 226.96H186.82V233.77H180.01zM193.63 226.96H201.09V233.77H193.63zM111.91 233.77H118.72V240.59H111.91zM145.96 233.77H152.77V240.59H145.96zM173.20 233.77H180.01V240.59H173.20zM118.72 240.59H125.53V247.40H118.72zM132.34 240.59H139.15V247.40H132.34zM173.20 240.59H180.01V247.40H173.20zM132.34 247.40H139.15V254.21H132.34zM186.82 247.40H193.63V254.21H186.82zM193.63 247.40H201.09V254.21H193.63zM77.86 254.21H84.67V261.02H77.86zM125.53 254.21H132.34V261.02H125.53zM180.01 254.21H186.82V261.02H180.01zM186.82 254.21H193.63V261.02H186.82zM193.63 254.21H201.09V261.02H193.63zM139.15 261.02H145.96V267.84H139.15zM173.20 261.02H180.01V267.84H173.20zM180.01 261.02H186.82V267.84H180.01zM193.63 261.02H201.09V267.84H193.63zM193.63 267.84H201.09V274.65H193.63zM9.76 274.65H16.57V281.46H9.76zM64.24 274.65H71.05V281.46H64.24zM105.10 274.65H111.91V281.46H105.10zM132.34 274.65H139.15V281.46H132.34zM139.15 274.65H145.96V281.46H139.15zM145.96 274.65H152.77V281.46H145.96zM98.29 281.46H105.10V288.28H98.29zM159.58 281.46H166.39V288.28H159.58zM64.24 288.28H71.05V295.09H64.24zM118.72 288.28H125.53V295.09H118.72zM180.01 288.28H186.82V295.09H180.01zM193.63 288.28H201.09V295.09H193.63zM64.24 295.09H71.05V302.55H64.24zM118.72 295.09H125.53V302.55H118.72zM180.01 295.09H186.82V302.55H180.01zM193.63 295.09H201.09V302.55H193.63z" fill="#8d0404"/>
<path d="M145.96 90.05H152.77V97.51H145.96zM152.77 90.05H159.58V97.51H152.77zM132.34 97.51H139.15V104.33H132.34zM139.15 97.51H145.96V104.33H139.15zM159.58 97.51H166.39V104.33H159.58zM125.53 104.33H132.34V111.14H125.53zM145.96 104.33H152.77V111.14H145.96zM159.58 104.33H166.39V111.14H159.58zM125.53 111.14H132.34V117.95H125.53zM139.15 111.14H145.96V117.95H139.15zM145.96 111.14H152.77V117.95H145.96zM152.77 111.14H159.58V117.95H152.77zM159.58 111.14H166.39V117.95H159.58zM193.63 111.14H201.09V117.95H193.63zM152.77 117.95H159.58V124.77H152.77zM180.01 117.95H186.82V124.77H180.01zM139.15 124.77H145.96V131.58H139.15zM166.39 124.77H173.20V131.58H166.39zM98.29 131.58H105.10V138.39H98.29zM145.96 131.58H152.77V138.39H145.96zM152.77 131.58H159.58V138.39H152.77zM186.82 131.58H193.63V138.39H186.82zM125.53 138.39H132.34V145.20H125.53zM159.58 138.39H166.39V145.20H159.58zM125.53 145.20H132.34V152.02H125.53zM186.82 145.20H193.63V152.02H186.82zM132.34 152.02H139.15V158.83H132.34zM139.15 152.02H145.96V158.83H139.15zM152.77 152.02H159.58V158.83H152.77zM180.01 152.02H186.82V158.83H180.01zM193.63 152.02H201.09V158.83H193.63zM111.91 158.83H118.72V165.64H111.91zM125.53 158.83H132.34V165.64H125.53zM132.34 158.83H139.15V165.64H132.34zM139.15 158.83H145.96V165.64H139.15zM166.39 158.83H173.20V165.64H166.39zM50.62 165.64H57.43V172.46H50.62zM16.57 172.46H23.38V179.27H16.57zM30.19 172.46H37.00V179.27H30.19zM43.81 172.46H50.62V179.27H43.81zM186.82 172.46H193.63V179.27H186.82zM16.57 179.27H23.38V186.08H16.57zM37.00 179.27H43.81V186.08H37.00zM64.24 179.27H71.05V186.08H64.24zM152.77 179.27H159.58V186.08H152.77zM16.57 186.08H23.38V192.89H16.57zM30.19 186.08H37.00V192.89H30.19zM37.00 186.08H43.81V192.89H37.00zM64.24 186.08H71.05V192.89H64.24zM16.57 192.89H23.38V199.71H16.57zM23.38 192.89H30.19V199.71H23.38zM145.96 192.89H152.77V199.71H145.96zM2.30 199.71H9.76V206.52H2.30zM37.00 199.71H43.81V206.52H37.00zM64.24 199.71H71.05V206.52H64.24zM84.67 199.71H91.48V206.52H84.67zM91.48 199.71H98.29V206.52H91.48zM145.96 199.71H152.77V206.52H145.96zM91.48 206.52H98.29V213.33H91.48zM166.39 206.52H173.20V213.33H166.39zM37.00 213.33H43.81V220.15H37.00zM111.91 213.33H118.72V220.15H111.91zM118.72 213.33H125.53V220.15H118.72zM125.53 213.33H132.34V220.15H125.53zM139.15 213.33H145.96V220.15H139.15zM152.77 213.33H159.58V220.15H152.77zM71.05 220.15H77.86V226.96H71.05zM91.48 220.15H98.29V226.96H91.48zM132.34 220.15H139.15V226.96H132.34zM145.96 220.15H152.77V226.96H145.96zM159.58 220.15H166.39V226.96H159.58zM57.43 226.96H64.24V233.77H57.43zM118.72 226.96H125.53V233.77H118.72zM125.53 226.96H132.34V233.77H125.53zM132.34 226.96H139.15V233.77H132.34zM145.96 226.96H152.77V233.77H145.96zM152.77 226.96H159.58V233.77H152.77zM159.58 226.96H166.39V233.77H159.58zM186.82 226.96H193.63V233.77H186.82zM118.72 233.77H125.53V240.59H118.72zM139.15 233.77H145.96V240.59H139.15zM152.77 233.77H159.58V240.59H152.77zM186.82 233.77H193.63V240.59H186.82zM193.63 233.77H201.09V240.59H193.63zM125.53 240.59H132.34V247.40H125.53zM145.96 240.59H152.77V247.40H145.96zM193.63 240.59H201.09V247.40H193.63zM57.43 247.40H64.24V254.21H57.43zM91.48 247.40H98.29V254.21H91.48zM152.77 247.40H159.58V254.21H152.77zM159.58 247.40H166.39V254.21H159.58zM173.20 247.40H180.01V254.21H173.20zM180.01 247.40H186.82V254.21H180.01zM37.00 254.21H43.81V261.02H37.00zM111.91 254.21H118.72V261.02H111.91zM118.72 254.21H125.53V261.02H118.72zM118.72 261.02H125.53V267.84H118.72zM132.34 261.02H139.15V267.84H132.34zM159.58 261.02H166.39V267.84H159.58zM186.82 261.02H193.63V267.84H186.82zM111.91 267.84H118.72V274.65H111.91zM132.34 267.84H139.15V274.65H132.34zM139.15 267.84H145.96V274.65H139.15zM152.77 267.84H159.58V274.65H152.77zM166.39 267.84H173.20V274.65H166.39zM173.20 267.84H180.01V274.65H173.20zM118.72 274.65H125.53V281.46H118.72zM166.39 274.65H173.20V281.46H166.39zM180.01 274.65H186.82V281.46H180.01zM186.82 274.65H193.63V281.46H186.82zM193.63 274.65H201.09V281.46H193.63zM118.72 281.46H125.53V288.28H118.72zM132.34 281.46H139.15V288.28H132.34zM139.15 281.46H145.96V288.28H139.15zM166.39 281.46H173.20V288.28H166.39zM186.82 281.46H193.63V288.28H186.82zM111.91 288.28H118.72V295.09H111.91zM139.15 288.28H145.96V295.09H139.15zM173.20 288.28H180.01V295.09H173.20zM91.48 295.09H98.29V302.55H91.48zM111.91 295.09H118.72V302.55H111.91zM139.15 295.09H145.96V302.55H139.15zM166.39 295.09H173.20V302.55H166.39zM173.20 295.09H180.01V302.55H173.20z" fill="#68131b"/>
<path d="M159.58 90.05H166.39V97.51H159.58zM173.20 97.51H180.01V104.33H173.20zM132.34 104.33H139.15V111.14H132.34zM180.01 104.33H186.82V111.14H180.01zM111.91 111.14H118.72V117.95H111.91zM193.63 117.95H201.09V124.77H193.63zM159.58 124.77H166.39V131.58H159.58zM132.34 131.58H139.15V138.39H132.34zM159.58 131.58H166.39V138.39H159.58zM166.39 138.39H173.20V145.20H166.39zM166.39 145.20H173.20V152.02H166.39zM180.01 145.20H186.82V152.02H180.01zM173.20 152.02H180.01V158.83H173.20zM159.58 158.83H166.39V165.64H159.58zM57.43 165.64H64.24V172.46H57.43zM64.24 165.64H71.05V172.46H64.24zM105.10 165.64H111.91V172.46H105.10zM64.24 172.46H71.05V179.27H64.24zM50.62 179.27H57.43V186.08H50.62zM57.43 179.27H64.24V186.08H57.43zM23.38 186.08H30.19V192.89H23.38zM30.19 192.89H37.00V199.71H30.19zM57.43 199.71H64.24V206.52H57.43zM125.53 206.52H132.34V213.33H125.53zM152.77 206.52H159.58V213.33H152.77zM159.58 206.52H166.39V213.33H159.58zM173.20 206.52H180.01V213.33H173.20zM132.34 213.33H139.15V220.15H132.34zM159.58 213.33H166.39V220.15H159.58zM125.53 220.15H132.34V226.96H125.53zM166.39 220.15H173.20V226.96H166.39zM173.20 226.96H180.01V233.77H173.20zM132.34 233.77H139.15V240.59H132.34zM159.58 233.77H166.39V240.59H159.58zM180.01 233.77H186.82V240.59H180.01zM111.91 240.59H118.72V247.40H111.91zM139.15 240.59H145.96V247.40H139.15zM159.58 240.59H166.39V247.40H159.58zM111.91 247.40H118.72V254.21H111.91zM125.53 247.40H132.34V254.21H125.53zM166.39 247.40H173.20V254.21H166.39zM152.77 254.21H159.58V261.02H152.77zM173.20 254.21H180.01V261.02H173.20zM125.53 261.02H132.34V267.84H125.53zM166.39 261.02H173.20V267.84H166.39zM159.58 267.84H166.39V274.65H159.58zM180.01 267.84H186.82V274.65H180.01zM111.91 274.65H118.72V281.46H111.91zM125.53 274.65H132.34V281.46H125.53zM152.77 274.65H159.58V281.46H152.77zM159.58 274.65H166.39V281.46H159.58zM111.91 281.46H118.72V288.28H111.91zM145.96 281.46H152.77V288.28H145.96zM180.01 281.46H186.82V288.28H180.01zM125.53 288.28H132.34V295.09H125.53zM132.34 288.28H139.15V295.09H132.34zM159.58 288.28H166.39V295.09H159.58zM186.82 288.28H193.63V295.09H186.82zM125.53 295.09H132.34V302.55H125.53zM132.34 295.09H139.15V302.55H132.34zM152.77 295.09H159.58V302.55H152.77zM159.58 295.09H166.39V302.55H159.58zM186.82 295.09H193.63V302.55H186.82z" fill="#a90000"/>
<path d="M193.63 90.05H201.09V97.51H193.63zM180.01 97.51H186.82V104.33H180.01zM125.53 117.95H132.34V124.77H125.53zM145.96 117.95H152.77V124.77H145.96zM111.91 124.77H118.72V131.58H111.91zM152.77 124.77H159.58V131.58H152.77zM111.91 131.58H118.72V138.39H111.91zM125.53 131.58H132.34V138.39H125.53zM173.20 158.83H180.01V165.64H173.20zM16.57 165.64H23.38V172.46H16.57zM30.19 165.64H37.00V172.46H30.19zM37.00 165.64H43.81V172.46H37.00zM71.05 165.64H77.86V172.46H71.05zM91.48 165.64H98.29V172.46H91.48zM152.77 165.64H159.58V172.46H152.77zM57.43 172.46H64.24V179.27H57.43zM43.81 179.27H50.62V186.08H43.81zM71.05 186.08H77.86V192.89H71.05zM43.81 192.89H50.62V199.71H43.81zM50.62 192.89H57.43V199.71H50.62zM98.29 192.89H105.10V199.71H98.29zM30.19 199.71H37.00V206.52H30.19zM43.81 199.71H50.62V206.52H43.81zM50.62 199.71H57.43V206.52H50.62zM98.29 199.71H105.10V206.52H98.29zM111.91 206.52H118.72V213.33H111.91zM111.91 220.15H118.72V226.96H111.91zM193.63 220.15H201.09V226.96H193.63zM125.53 233.77H132.34V240.59H125.53zM180.01 240.59H186.82V247.40H180.01zM139.15 254.21H145.96V261.02H139.15zM159.58 254.21H166.39V261.02H159.58zM111.91 261.02H118.72V267.84H111.91zM173.20 274.65H180.01V281.46H173.20zM193.63 281.46H201.09V288.28H193.63zM37.00 288.28H43.81V295.09H37.00zM152.77 288.28H159.58V295.09H152.77zM37.00 295.09H43.81V302.55H37.00z" fill="#9b0001"/>
<path d="M77.86 97.51H84.67V104.33H77.86zM118.72 97.51H125.53V104.33H118.72zM186.82 97.51H193.63V104.33H186.82zM77.86 104.33H84.67V111.14H77.86zM111.91 104.33H118.72V111.14H111.91zM118.72 104.33H125.53V111.14H118.72zM173.20 104.33H180.01V111.14H173.20zM30.19 111.14H37.00V117.95H30.19zM139.15 117.95H145.96V124.77H139.15zM173.20 117.95H180.01V124.77H173.20zM186.82 117.95H193.63V124.77H186.82zM145.96 124.77H152.77V131.58H145.96zM2.30 131.58H9.76V138.39H2.30zM23.38 131.58H30.19V138.39H23.38zM2.30 138.39H9.76V145.20H2.30zM152.77 138.39H159.58V145.20H152.77zM98.29 145.20H105.10V152.02H98.29zM139.15 145.20H145.96V152.02H139.15zM98.29 152.02H105.10V158.83H98.29zM105.10 152.02H111.91V158.83H105.10zM186.82 152.02H193.63V158.83H186.82zM2.30 172.46H9.76V179.27H2.30zM23.38 172.46H30.19V179.27H23.38zM37.00 172.46H43.81V179.27H37.00zM84.67 172.46H91.48V179.27H84.67zM152.77 172.46H159.58V179.27H152.77zM186.82 179.27H193.63V186.08H186.82zM2.30 186.08H9.76V192.89H2.30zM98.29 186.08H105.10V192.89H98.29zM105.10 186.08H111.91V192.89H105.10zM145.96 186.08H152.77V192.89H145.96zM37.00 192.89H43.81V199.71H37.00zM64.24 192.89H71.05V199.71H64.24zM71.05 192.89H77.86V199.71H71.05zM105.10 192.89H111.91V199.71H105.10zM118.72 192.89H125.53V199.71H118.72zM71.05 199.71H77.86V206.52H71.05zM105.10 199.71H111.91V206.52H105.10zM193.63 199.71H201.09V206.52H193.63zM64.24 206.52H71.05V213.33H64.24zM186.82 206.52H193.63V213.33H186.82zM91.48 213.33H98.29V220.15H91.48zM186.82 220.15H193.63V226.96H186.82zM64.24 226.96H71.05V233.77H64.24zM91.48 226.96H98.29V233.77H91.48zM111.91 226.96H118.72V233.77H111.91zM139.15 226.96H145.96V233.77H139.15zM37.00 233.77H43.81V240.59H37.00zM50.62 233.77H57.43V240.59H50.62zM98.29 233.77H105.10V240.59H98.29zM166.39 240.59H173.20V247.40H166.39zM71.05 247.40H77.86V254.21H71.05zM139.15 247.40H145.96V254.21H139.15zM145.96 247.40H152.77V254.21H145.96zM71.05 261.02H77.86V267.84H71.05zM145.96 261.02H152.77V267.84H145.96zM2.30 267.84H9.76V274.65H2.30zM91.48 267.84H98.29V274.65H91.48zM98.29 267.84H105.10V274.65H98.29zM118.72 267.84H125.53V274.65H118.72zM145.96 267.84H152.77V274.65H145.96zM37.00 274.65H43.81V281.46H37.00zM2.30 281.46H9.76V288.28H2.30zM9.76 281.46H16.57V288.28H9.76zM16.57 281.46H23.38V288.28H16.57zM23.38 281.46H30.19V288.28H23.38zM173.20 281.46H180.01V288.28H173.20zM9.76 288.28H16.57V295.09H9.76zM91.48 288.28H98.29V295.09H91.48zM166.39 288.28H173.20V295.09H166.39zM9.76 295.09H16.57V302.55H9.76z" fill="#402236"/>
<path d="M132.34 117.95H139.15V124.77H132.34zM159.58 152.02H166.39V158.83H159.58z" fill="#2e2b35"/>
<path d="M3.60 91.35H9.11V96.86H3.60zM10.41 91.35H15.92V96.86H10.41zM17.22 91.35H22.73V96.86H17.22zM71.70 91.35H77.21V96.86H71.70zM78.51 91.35H84.02V96.86H78.51zM10.41 98.16H15.92V103.68H10.41zM30.84 98.16H36.35V103.68H30.84zM58.08 98.16H63.59V103.68H58.08zM71.70 98.16H77.21V103.68H71.70zM85.32 98.16H90.83V103.68H85.32zM92.13 98.16H97.64V103.68H92.13zM167.04 98.16H172.55V103.68H167.04zM30.84 104.98H36.35V110.49H30.84zM44.46 104.98H49.97V110.49H44.46zM71.70 104.98H77.21V110.49H71.70zM139.80 104.98H145.31V110.49H139.80zM167.04 104.98H172.55V110.49H167.04zM10.41 111.79H15.92V117.30H10.41zM17.22 111.79H22.73V117.30H17.22zM58.08 111.79H63.59V117.30H58.08zM71.70 111.79H77.21V117.30H71.70zM92.13 111.79H97.64V117.30H92.13zM10.41 118.60H15.92V124.11H10.41zM37.65 118.60H43.16V124.11H37.65zM44.46 118.60H49.97V124.11H44.46zM51.27 118.60H56.78V124.11H51.27zM58.08 118.60H63.59V124.11H58.08zM71.70 118.60H77.21V124.11H71.70zM98.94 118.60H104.45V124.11H98.94zM3.60 125.42H9.11V130.93H3.60zM10.41 125.42H15.92V130.93H10.41zM24.03 125.42H29.54V130.93H24.03zM30.84 125.42H36.35V130.93H30.84zM37.65 125.42H43.16V130.93H37.65zM51.27 125.42H56.78V130.93H51.27zM64.89 125.42H70.40V130.93H64.89zM85.32 125.42H90.83V130.93H85.32zM92.13 125.42H97.64V130.93H92.13zM98.94 125.42H104.45V130.93H98.94zM10.41 132.23H15.92V137.74H10.41zM17.22 132.23H22.73V137.74H17.22zM30.84 132.23H36.35V137.74H30.84zM37.65 132.23H43.16V137.74H37.65zM44.46 132.23H49.97V137.74H44.46zM51.27 132.23H56.78V137.74H51.27zM58.08 132.23H63.59V137.74H58.08zM64.89 132.23H70.40V137.74H64.89zM92.13 132.23H97.64V137.74H92.13zM167.04 132.23H172.55V137.74H167.04zM10.41 139.04H15.92V144.55H10.41zM24.03 139.04H29.54V144.55H24.03zM58.08 139.04H63.59V144.55H58.08zM85.32 139.04H90.83V144.55H85.32zM92.13 139.04H97.64V144.55H92.13zM98.94 139.04H104.45V144.55H98.94zM132.99 139.04H138.50V144.55H132.99zM139.80 139.04H145.31V144.55H139.80zM3.60 145.85H9.11V151.37H3.60zM17.22 145.85H22.73V151.37H17.22zM24.03 145.85H29.54V151.37H24.03zM30.84 145.85H36.35V151.37H30.84zM58.08 145.85H63.59V151.37H58.08zM64.89 145.85H70.40V151.37H64.89zM92.13 145.85H97.64V151.37H92.13zM105.75 145.85H111.26V151.37H105.75zM132.99 145.85H138.50V151.37H132.99zM153.42 145.85H158.93V151.37H153.42zM3.60 152.67H9.11V158.18H3.60zM37.65 152.67H43.16V158.18H37.65zM44.46 152.67H49.97V158.18H44.46zM51.27 152.67H56.78V158.18H51.27zM17.22 159.48H22.73V164.99H17.22zM37.65 159.48H43.16V164.99H37.65zM58.08 159.48H63.59V164.99H58.08zM71.70 159.48H77.21V164.99H71.70zM78.51 159.48H84.02V164.99H78.51zM85.32 159.48H90.83V164.99H85.32zM98.94 159.48H104.45V164.99H98.94zM119.37 159.48H124.88V164.99H119.37zM180.66 159.48H186.17V164.99H180.66zM3.60 166.29H9.11V171.81H3.60zM78.51 166.29H84.02V171.81H78.51zM139.80 166.29H145.31V171.81H139.80zM78.51 173.11H84.02V178.62H78.51zM119.37 173.11H124.88V178.62H119.37zM126.18 173.11H131.69V178.62H126.18zM132.99 173.11H138.50V178.62H132.99zM173.85 173.11H179.36V178.62H173.85zM10.41 179.92H15.92V185.43H10.41zM78.51 179.92H84.02V185.43H78.51zM98.94 179.92H104.45V185.43H98.94zM119.37 179.92H124.88V185.43H119.37zM146.61 179.92H152.12V185.43H146.61zM180.66 179.92H186.17V185.43H180.66zM51.27 186.73H56.78V192.24H51.27zM92.13 186.73H97.64V192.24H92.13zM119.37 186.73H124.88V192.24H119.37zM173.85 186.73H179.36V192.24H173.85zM180.66 186.73H186.17V192.24H180.66zM187.47 186.73H192.98V192.24H187.47zM3.60 193.54H9.11V199.06H3.60zM10.41 193.54H15.92V199.06H10.41zM78.51 193.54H84.02V199.06H78.51zM112.56 193.54H118.07V199.06H112.56zM139.80 193.54H145.31V199.06H139.80zM160.23 193.54H165.74V199.06H160.23zM194.28 193.54H199.79V199.06H194.28zM10.41 200.36H15.92V205.87H10.41zM112.56 200.36H118.07V205.87H112.56zM139.80 200.36H145.31V205.87H139.80zM173.85 200.36H179.36V205.87H173.85zM187.47 200.36H192.98V205.87H187.47zM10.41 207.17H15.92V212.68H10.41zM37.65 207.17H43.16V212.68H37.65zM51.27 207.17H56.78V212.68H51.27zM58.08 207.17H63.59V212.68H58.08zM71.70 207.17H77.21V212.68H71.70zM85.32 207.17H90.83V212.68H85.32zM10.41 213.98H15.92V219.50H10.41zM51.27 213.98H56.78V219.50H51.27zM64.89 213.98H70.40V219.50H64.89zM78.51 213.98H84.02V219.50H78.51zM146.61 213.98H152.12V219.50H146.61zM167.04 213.98H172.55V219.50H167.04zM3.60 220.80H9.11V226.31H3.60zM10.41 220.80H15.92V226.31H10.41zM17.22 220.80H22.73V226.31H17.22zM30.84 220.80H36.35V226.31H30.84zM37.65 220.80H43.16V226.31H37.65zM44.46 220.80H49.97V226.31H44.46zM105.75 220.80H111.26V226.31H105.75zM119.37 220.80H124.88V226.31H119.37zM139.80 220.80H145.31V226.31H139.80zM24.03 227.61H29.54V233.12H24.03zM71.70 227.61H77.21V233.12H71.70zM3.60 234.42H9.11V239.94H3.60zM10.41 234.42H15.92V239.94H10.41zM17.22 234.42H22.73V239.94H17.22zM24.03 234.42H29.54V239.94H24.03zM64.89 234.42H70.40V239.94H64.89zM3.60 241.24H9.11V246.75H3.60zM24.03 241.24H29.54V246.75H24.03zM51.27 241.24H56.78V246.75H51.27zM64.89 241.24H70.40V246.75H64.89zM71.70 241.24H77.21V246.75H71.70zM98.94 241.24H104.45V246.75H98.94zM105.75 241.24H111.26V246.75H105.75zM153.42 241.24H158.93V246.75H153.42zM187.47 241.24H192.98V246.75H187.47zM3.60 248.05H9.11V253.56H3.60zM30.84 248.05H36.35V253.56H30.84zM37.65 248.05H43.16V253.56H37.65zM119.37 248.05H124.88V253.56H119.37zM3.60 254.86H9.11V260.38H3.60zM10.41 254.86H15.92V260.38H10.41zM17.22 254.86H22.73V260.38H17.22zM85.32 254.86H90.83V260.38H85.32zM98.94 254.86H104.45V260.38H98.94zM132.99 254.86H138.50V260.38H132.99zM146.61 254.86H152.12V260.38H146.61zM167.04 254.86H172.55V260.38H167.04zM3.60 261.67H9.11V267.19H3.60zM10.41 261.67H15.92V267.19H10.41zM17.22 261.67H22.73V267.19H17.22zM64.89 261.67H70.40V267.19H64.89zM85.32 261.67H90.83V267.19H85.32zM92.13 261.67H97.64V267.19H92.13zM153.42 261.67H158.93V267.19H153.42zM37.65 268.49H43.16V274.00H37.65zM71.70 268.49H77.21V274.00H71.70zM105.75 268.49H111.26V274.00H105.75zM126.18 268.49H131.69V274.00H126.18zM187.47 268.49H192.98V274.00H187.47zM3.60 275.30H9.11V280.81H3.60zM24.03 275.30H29.54V280.81H24.03zM85.32 275.30H90.83V280.81H85.32zM92.13 275.30H97.64V280.81H92.13zM30.84 282.11H36.35V287.63H30.84zM58.08 282.11H63.59V287.63H58.08zM85.32 282.11H90.83V287.63H85.32zM126.18 282.11H131.69V287.63H126.18zM153.42 282.11H158.93V287.63H153.42zM51.27 288.93H56.78V294.44H51.27zM78.51 288.93H84.02V294.44H78.51zM146.61 288.93H152.12V294.44H146.61zM51.27 295.74H56.78V301.25H51.27zM58.08 295.74H63.59V301.25H58.08zM78.51 295.74H84.02V301.25H78.51zM146.61 295.74H152.12V301.25H146.61z" fill="#dcdafa"/>
<path d="M24.03 91.35H29.54V96.86H24.03zM64.89 91.35H70.40V96.86H64.89zM37.65 98.16H43.16V103.68H37.65zM3.60 104.98H9.11V110.49H3.60zM17.22 104.98H22.73V110.49H17.22zM51.27 104.98H56.78V110.49H51.27zM64.89 104.98H70.40V110.49H64.89zM92.13 104.98H97.64V110.49H92.13zM3.60 111.79H9.11V117.30H3.60zM44.46 111.79H49.97V117.30H44.46zM78.51 111.79H84.02V117.30H78.51zM92.13 118.60H97.64V124.11H92.13zM71.70 125.42H77.21V130.93H71.70zM78.51 125.42H84.02V130.93H78.51zM78.51 132.23H84.02V137.74H78.51zM85.32 132.23H90.83V137.74H85.32zM17.22 139.04H22.73V144.55H17.22zM37.65 139.04H43.16V144.55H37.65zM78.51 139.04H84.02V144.55H78.51zM10.41 145.85H15.92V151.37H10.41zM51.27 145.85H56.78V151.37H51.27zM78.51 145.85H84.02V151.37H78.51zM85.32 145.85H90.83V151.37H85.32zM10.41 152.67H15.92V158.18H10.41zM17.22 152.67H22.73V158.18H17.22zM30.84 152.67H36.35V158.18H30.84zM78.51 152.67H84.02V158.18H78.51zM92.13 152.67H97.64V158.18H92.13zM146.61 152.67H152.12V158.18H146.61zM105.75 159.48H111.26V164.99H105.75zM146.61 166.29H152.12V171.81H146.61zM180.66 166.29H186.17V171.81H180.66zM112.56 173.11H118.07V178.62H112.56zM139.80 173.11H145.31V178.62H139.80zM194.28 173.11H199.79V178.62H194.28zM112.56 179.92H118.07V185.43H112.56zM160.23 179.92H165.74V185.43H160.23zM153.42 186.73H158.93V192.24H153.42zM194.28 186.73H199.79V192.24H194.28zM132.99 193.54H138.50V199.06H132.99zM180.66 193.54H186.17V199.06H180.66zM153.42 200.36H158.93V205.87H153.42zM160.23 200.36H165.74V205.87H160.23zM167.04 200.36H172.55V205.87H167.04zM30.84 207.17H36.35V212.68H30.84zM44.46 207.17H49.97V212.68H44.46zM98.94 207.17H104.45V212.68H98.94zM105.75 207.17H111.26V212.68H105.75zM98.94 213.98H104.45V219.50H98.94zM105.75 213.98H111.26V219.50H105.75zM78.51 220.80H84.02V226.31H78.51zM85.32 220.80H90.83V226.31H85.32zM51.27 227.61H56.78V233.12H51.27zM78.51 234.42H84.02V239.94H78.51zM85.32 234.42H90.83V239.94H85.32zM78.51 241.24H84.02V246.75H78.51zM85.32 241.24H90.83V246.75H85.32zM85.32 248.05H90.83V253.56H85.32zM30.84 254.86H36.35V260.38H30.84zM64.89 254.86H70.40V260.38H64.89zM44.46 261.67H49.97V267.19H44.46zM30.84 268.49H36.35V274.00H30.84zM44.46 268.49H49.97V274.00H44.46zM78.51 268.49H84.02V274.00H78.51zM85.32 268.49H90.83V274.00H85.32zM44.46 275.30H49.97V280.81H44.46zM71.70 275.30H77.21V280.81H71.70zM78.51 275.30H84.02V280.81H78.51zM71.70 282.11H77.21V287.63H71.70zM105.75 288.93H111.26V294.44H105.75zM105.75 295.74H111.26V301.25H105.75z" fill="#420fb8"/>
<path d="M30.84 91.35H36.35V96.86H30.84zM58.08 91.35H63.59V96.86H58.08zM85.32 91.35H90.83V96.86H85.32zM98.94 91.35H104.45V96.86H98.94zM105.75 91.35H111.26V96.86H105.75zM3.60 98.16H9.11V103.68H3.60zM98.94 104.98H104.45V110.49H98.94zM24.03 111.79H29.54V117.30H24.03zM37.65 111.79H43.16V117.30H37.65zM51.27 111.79H56.78V117.30H51.27zM64.89 111.79H70.40V117.30H64.89zM98.94 111.79H104.45V117.30H98.94zM105.75 111.79H111.26V117.30H105.75zM17.22 118.60H22.73V124.11H17.22zM24.03 118.60H29.54V124.11H24.03zM44.46 125.42H49.97V130.93H44.46zM64.89 139.04H70.40V144.55H64.89zM3.60 159.48H9.11V164.99H3.60zM98.94 166.29H104.45V171.81H98.94zM146.61 173.11H152.12V178.62H146.61zM132.99 186.73H138.50V192.24H132.99zM173.85 193.54H179.36V199.06H173.85zM126.18 200.36H131.69V205.87H126.18zM132.99 200.36H138.50V205.87H132.99zM17.22 207.17H22.73V212.68H17.22zM139.80 207.17H145.31V212.68H139.80zM3.60 213.98H9.11V219.50H3.60zM44.46 213.98H49.97V219.50H44.46zM51.27 220.80H56.78V226.31H51.27zM98.94 227.61H104.45V233.12H98.94zM24.03 248.05H29.54V253.56H24.03zM51.27 248.05H56.78V253.56H51.27zM78.51 248.05H84.02V253.56H78.51zM24.03 254.86H29.54V260.38H24.03zM58.08 254.86H63.59V260.38H58.08zM71.70 254.86H77.21V260.38H71.70zM24.03 261.67H29.54V267.19H24.03zM30.84 261.67H36.35V267.19H30.84zM37.65 261.67H43.16V267.19H37.65zM51.27 261.67H56.78V267.19H51.27zM24.03 268.49H29.54V274.00H24.03zM44.46 282.11H49.97V287.63H44.46zM3.60 288.93H9.11V294.44H3.60zM24.03 288.93H29.54V294.44H24.03zM44.46 288.93H49.97V294.44H44.46zM71.70 288.93H77.21V294.44H71.70zM98.94 288.93H104.45V294.44H98.94zM3.60 295.74H9.11V301.25H3.60zM24.03 295.74H29.54V301.25H24.03zM44.46 295.74H49.97V301.25H44.46zM71.70 295.74H77.21V301.25H71.70zM98.94 295.74H104.45V301.25H98.94z" fill="#2010bc"/>
<path d="M37.65 91.35H43.16V96.86H37.65zM51.27 91.35H56.78V96.86H51.27zM92.13 91.35H97.64V96.86H92.13zM51.27 98.16H56.78V103.68H51.27zM98.94 98.16H104.45V103.68H98.94zM105.75 98.16H111.26V103.68H105.75zM10.41 104.98H15.92V110.49H10.41zM37.65 104.98H43.16V110.49H37.65zM58.08 104.98H63.59V110.49H58.08zM85.32 104.98H90.83V110.49H85.32zM30.84 118.60H36.35V124.11H30.84zM64.89 118.60H70.40V124.11H64.89zM78.51 118.60H84.02V124.11H78.51zM105.75 118.60H111.26V124.11H105.75zM58.08 125.42H63.59V130.93H58.08zM30.84 139.04H36.35V144.55H30.84zM105.75 139.04H111.26V144.55H105.75zM37.65 145.85H43.16V151.37H37.65zM64.89 152.67H70.40V158.18H64.89zM44.46 159.48H49.97V164.99H44.46zM92.13 159.48H97.64V164.99H92.13zM146.61 159.48H152.12V164.99H146.61zM112.56 166.29H118.07V171.81H112.56zM119.37 166.29H124.88V171.81H119.37zM126.18 166.29H131.69V171.81H126.18zM167.04 166.29H172.55V171.81H167.04zM194.28 166.29H199.79V171.81H194.28zM132.99 179.92H138.50V185.43H132.99zM194.28 179.92H199.79V185.43H194.28zM139.80 186.73H145.31V192.24H139.80zM167.04 193.54H172.55V199.06H167.04zM187.47 193.54H192.98V199.06H187.47zM180.66 200.36H186.17V205.87H180.66zM3.60 207.17H9.11V212.68H3.60zM24.03 207.17H29.54V212.68H24.03zM78.51 207.17H84.02V212.68H78.51zM30.84 213.98H36.35V219.50H30.84zM24.03 220.80H29.54V226.31H24.03zM64.89 220.80H70.40V226.31H64.89zM85.32 227.61H90.83V233.12H85.32zM105.75 227.61H111.26V233.12H105.75zM30.84 234.42H36.35V239.94H30.84zM71.70 234.42H77.21V239.94H71.70zM17.22 241.24H22.73V246.75H17.22zM30.84 241.24H36.35V246.75H30.84zM44.46 241.24H49.97V246.75H44.46zM58.08 241.24H63.59V246.75H58.08zM92.13 241.24H97.64V246.75H92.13zM98.94 248.05H104.45V253.56H98.94zM44.46 254.86H49.97V260.38H44.46zM58.08 261.67H63.59V267.19H58.08zM105.75 261.67H111.26V267.19H105.75zM58.08 268.49H63.59V274.00H58.08zM64.89 268.49H70.40V274.00H64.89zM51.27 275.30H56.78V280.81H51.27zM58.08 275.30H63.59V280.81H58.08zM98.94 275.30H104.45V280.81H98.94zM51.27 282.11H56.78V287.63H51.27zM78.51 282.11H84.02V287.63H78.51zM17.22 288.93H22.73V294.44H17.22zM30.84 295.74H36.35V301.25H30.84z" fill="#7070ee"/>
<path d="M44.46 91.35H49.97V96.86H44.46zM17.22 98.16H22.73V103.68H17.22zM24.03 98.16H29.54V103.68H24.03zM44.46 98.16H49.97V103.68H44.46zM64.89 98.16H70.40V103.68H64.89zM24.03 104.98H29.54V110.49H24.03zM105.75 104.98H111.26V110.49H105.75zM85.32 111.79H90.83V117.30H85.32zM3.60 118.60H9.11V124.11H3.60zM85.32 118.60H90.83V124.11H85.32zM17.22 125.42H22.73V130.93H17.22zM105.75 125.42H111.26V130.93H105.75zM71.70 132.23H77.21V137.74H71.70zM105.75 132.23H111.26V137.74H105.75zM44.46 139.04H49.97V144.55H44.46zM51.27 139.04H56.78V144.55H51.27zM71.70 139.04H77.21V144.55H71.70zM44.46 145.85H49.97V151.37H44.46zM71.70 145.85H77.21V151.37H71.70zM24.03 152.67H29.54V158.18H24.03zM58.08 152.67H63.59V158.18H58.08zM71.70 152.67H77.21V158.18H71.70zM85.32 152.67H90.83V158.18H85.32zM10.41 159.48H15.92V164.99H10.41zM24.03 159.48H29.54V164.99H24.03zM30.84 159.48H36.35V164.99H30.84zM51.27 159.48H56.78V164.99H51.27zM64.89 159.48H70.40V164.99H64.89zM132.99 166.29H138.50V171.81H132.99zM160.23 166.29H165.74V171.81H160.23zM173.85 166.29H179.36V171.81H173.85zM187.47 166.29H192.98V171.81H187.47zM160.23 173.11H165.74V178.62H160.23zM167.04 173.11H172.55V178.62H167.04zM180.66 173.11H186.17V178.62H180.66zM126.18 179.92H131.69V185.43H126.18zM139.80 179.92H145.31V185.43H139.80zM173.85 179.92H179.36V185.43H173.85zM112.56 186.73H118.07V192.24H112.56zM126.18 186.73H131.69V192.24H126.18zM160.23 186.73H165.74V192.24H160.23zM126.18 193.54H131.69V199.06H126.18zM153.42 193.54H158.93V199.06H153.42zM78.51 200.36H84.02V205.87H78.51zM119.37 200.36H124.88V205.87H119.37zM132.99 207.17H138.50V212.68H132.99zM17.22 213.98H22.73V219.50H17.22zM24.03 213.98H29.54V219.50H24.03zM58.08 213.98H63.59V219.50H58.08zM71.70 213.98H77.21V219.50H71.70zM85.32 213.98H90.83V219.50H85.32zM98.94 220.80H104.45V226.31H98.94zM3.60 227.61H9.11V233.12H3.60zM10.41 227.61H15.92V233.12H10.41zM17.22 227.61H22.73V233.12H17.22zM30.84 227.61H36.35V233.12H30.84zM44.46 227.61H49.97V233.12H44.46zM78.51 227.61H84.02V233.12H78.51zM44.46 234.42H49.97V239.94H44.46zM58.08 234.42H63.59V239.94H58.08zM92.13 234.42H97.64V239.94H92.13zM105.75 234.42H111.26V239.94H105.75zM167.04 234.42H172.55V239.94H167.04zM10.41 241.24H15.92V246.75H10.41zM37.65 241.24H43.16V246.75H37.65zM10.41 248.05H15.92V253.56H10.41zM17.22 248.05H22.73V253.56H17.22zM44.46 248.05H49.97V253.56H44.46zM64.89 248.05H70.40V253.56H64.89zM105.75 248.05H111.26V253.56H105.75zM51.27 254.86H56.78V260.38H51.27zM92.13 254.86H97.64V260.38H92.13zM105.75 254.86H111.26V260.38H105.75zM78.51 261.67H84.02V267.19H78.51zM98.94 261.67H104.45V267.19H98.94zM10.41 268.49H15.92V274.00H10.41zM17.22 268.49H22.73V274.00H17.22zM51.27 268.49H56.78V274.00H51.27zM17.22 275.30H22.73V280.81H17.22zM30.84 275.30H36.35V280.81H30.84zM37.65 282.11H43.16V287.63H37.65zM64.89 282.11H70.40V287.63H64.89zM92.13 282.11H97.64V287.63H92.13zM105.75 282.11H111.26V287.63H105.75zM30.84 288.93H36.35V294.44H30.84zM58.08 288.93H63.59V294.44H58.08zM85.32 288.93H90.83V294.44H85.32zM17.22 295.74H22.73V301.25H17.22zM85.32 295.74H90.83V301.25H85.32z" fill="#a0a0f6"/>
<path d="M112.56 91.35H118.07V96.86H112.56zM119.37 91.35H124.88V96.86H119.37zM126.18 91.35H131.69V96.86H126.18zM132.99 91.35H138.50V96.86H132.99zM139.80 91.35H145.31V96.86H139.80zM167.04 91.35H172.55V96.86H167.04zM173.85 91.35H179.36V96.86H173.85zM180.66 91.35H186.17V96.86H180.66zM187.47 91.35H192.98V96.86H187.47zM112.56 98.16H118.07V103.68H112.56zM126.18 98.16H131.69V103.68H126.18zM146.61 98.16H152.12V103.68H146.61zM153.42 98.16H158.93V103.68H153.42zM194.28 98.16H199.79V103.68H194.28zM153.42 104.98H158.93V110.49H153.42zM187.47 104.98H192.98V110.49H187.47zM194.28 104.98H199.79V110.49H194.28zM119.37 111.79H124.88V117.30H119.37zM132.99 111.79H138.50V117.30H132.99zM167.04 111.79H172.55V117.30H167.04zM173.85 111.79H179.36V117.30H173.85zM180.66 111.79H186.17V117.30H180.66zM187.47 111.79H192.98V117.30H187.47zM112.56 118.60H118.07V124.11H112.56zM119.37 118.60H124.88V124.11H119.37zM160.23 118.60H165.74V124.11H160.23zM167.04 118.60H172.55V124.11H167.04zM119.37 125.42H124.88V130.93H119.37zM126.18 125.42H131.69V130.93H126.18zM132.99 125.42H138.50V130.93H132.99zM173.85 125.42H179.36V130.93H173.85zM180.66 125.42H186.17V130.93H180.66zM187.47 125.42H192.98V130.93H187.47zM194.28 125.42H199.79V130.93H194.28zM119.37 132.23H124.88V137.74H119.37zM139.80 132.23H145.31V137.74H139.80zM173.85 132.23H179.36V137.74H173.85zM180.66 132.23H186.17V137.74H180.66zM194.28 132.23H199.79V137.74H194.28zM112.56 139.04H118.07V144.55H112.56zM119.37 139.04H124.88V144.55H119.37zM146.61 139.04H152.12V144.55H146.61zM173.85 139.04H179.36V144.55H173.85zM180.66 139.04H186.17V144.55H180.66zM187.47 139.04H192.98V144.55H187.47zM194.28 139.04H199.79V144.55H194.28zM112.56 145.85H118.07V151.37H112.56zM119.37 145.85H124.88V151.37H119.37zM146.61 145.85H152.12V151.37H146.61zM160.23 145.85H165.74V151.37H160.23zM173.85 145.85H179.36V151.37H173.85zM194.28 145.85H199.79V151.37H194.28zM112.56 152.67H118.07V158.18H112.56zM119.37 152.67H124.88V158.18H119.37zM126.18 152.67H131.69V158.18H126.18zM167.04 152.67H172.55V158.18H167.04zM153.42 159.48H158.93V164.99H153.42zM187.47 159.48H192.98V164.99H187.47zM194.28 159.48H199.79V164.99H194.28zM10.41 166.29H15.92V171.81H10.41zM24.03 166.29H29.54V171.81H24.03zM44.46 166.29H49.97V171.81H44.46zM85.32 166.29H90.83V171.81H85.32zM10.41 173.11H15.92V178.62H10.41zM51.27 173.11H56.78V178.62H51.27zM71.70 173.11H77.21V178.62H71.70zM92.13 173.11H97.64V178.62H92.13zM98.94 173.11H104.45V178.62H98.94zM105.75 173.11H111.26V178.62H105.75zM3.60 179.92H9.11V185.43H3.60zM24.03 179.92H29.54V185.43H24.03zM30.84 179.92H36.35V185.43H30.84zM71.70 179.92H77.21V185.43H71.70zM85.32 179.92H90.83V185.43H85.32zM92.13 179.92H97.64V185.43H92.13zM105.75 179.92H111.26V185.43H105.75zM167.04 179.92H172.55V185.43H167.04zM10.41 186.73H15.92V192.24H10.41zM44.46 186.73H49.97V192.24H44.46zM58.08 186.73H63.59V192.24H58.08zM78.51 186.73H84.02V192.24H78.51zM85.32 186.73H90.83V192.24H85.32zM167.04 186.73H172.55V192.24H167.04zM58.08 193.54H63.59V199.06H58.08zM85.32 193.54H90.83V199.06H85.32zM92.13 193.54H97.64V199.06H92.13zM17.22 200.36H22.73V205.87H17.22zM24.03 200.36H29.54V205.87H24.03zM119.37 207.17H124.88V212.68H119.37zM146.61 207.17H152.12V212.68H146.61zM180.66 207.17H186.17V212.68H180.66zM194.28 207.17H199.79V212.68H194.28zM173.85 213.98H179.36V219.50H173.85zM180.66 213.98H186.17V219.50H180.66zM187.47 213.98H192.98V219.50H187.47zM194.28 213.98H199.79V219.50H194.28zM58.08 220.80H63.59V226.31H58.08zM153.42 220.80H158.93V226.31H153.42zM173.85 220.80H179.36V226.31H173.85zM180.66 220.80H186.17V226.31H180.66zM37.65 227.61H43.16V233.12H37.65zM167.04 227.61H172.55V233.12H167.04zM180.66 227.61H186.17V233.12H180.66zM194.28 227.61H199.79V233.12H194.28zM112.56 234.42H118.07V239.94H112.56zM146.61 234.42H152.12V239.94H146.61zM173.85 234.42H179.36V239.94H173.85zM119.37 241.24H124.88V246.75H119.37zM132.99 241.24H138.50V246.75H132.99zM173.85 241.24H179.36V246.75H173.85zM132.99 248.05H138.50V253.56H132.99zM187.47 248.05H192.98V253.56H187.47zM194.28 248.05H199.79V253.56H194.28zM78.51 254.86H84.02V260.38H78.51zM126.18 254.86H131.69V260.38H126.18zM180.66 254.86H186.17V260.38H180.66zM187.47 254.86H192.98V260.38H187.47zM194.28 254.86H199.79V260.38H194.28zM139.80 261.67H145.31V267.19H139.80zM173.85 261.67H179.36V267.19H173.85zM180.66 261.67H186.17V267.19H180.66zM194.28 261.67H199.79V267.19H194.28zM194.28 268.49H199.79V274.00H194.28zM10.41 275.30H15.92V280.81H10.41zM64.89 275.30H70.40V280.81H64.89zM105.75 275.30H111.26V280.81H105.75zM132.99 275.30H138.50V280.81H132.99zM139.80 275.30H145.31V280.81H139.80zM146.61 275.30H152.12V280.81H146.61zM98.94 282.11H104.45V287.63H98.94zM160.23 282.11H165.74V287.63H160.23zM64.89 288.93H70.40V294.44H64.89zM119.37 288.93H124.88V294.44H119.37zM180.66 288.93H186.17V294.44H180.66zM194.28 288.93H199.79V294.44H194.28zM64.89 295.74H70.40V301.25H64.89zM119.37 295.74H124.88V301.25H119.37zM180.66 295.74H186.17V301.25H180.66zM194.28 295.74H199.79V301.25H194.28z" fill="#ee4c4c"/>
<path d="M146.61 91.35H152.12V96.86H146.61zM153.42 91.35H158.93V96.86H153.42zM132.99 98.16H138.50V103.68H132.99zM139.80 98.16H145.31V103.68H139.80zM160.23 98.16H165.74V103.68H160.23zM126.18 104.98H131.69V110.49H126.18zM146.61 104.98H152.12V110.49H146.61zM160.23 104.98H165.74V110.49H160.23zM126.18 111.79H131.69V117.30H126.18zM139.80 111.79H145.31V117.30H139.80zM146.61 111.79H152.12V117.30H146.61zM153.42 111.79H158.93V117.30H153.42zM160.23 111.79H165.74V117.30H160.23zM194.28 111.79H199.79V117.30H194.28zM153.42 118.60H158.93V124.11H153.42zM180.66 118.60H186.17V124.11H180.66zM139.80 125.42H145.31V130.93H139.80zM167.04 125.42H172.55V130.93H167.04zM98.94 132.23H104.45V137.74H98.94zM146.61 132.23H152.12V137.74H146.61zM153.42 132.23H158.93V137.74H153.42zM187.47 132.23H192.98V137.74H187.47zM126.18 139.04H131.69V144.55H126.18zM160.23 139.04H165.74V144.55H160.23zM126.18 145.85H131.69V151.37H126.18zM187.47 145.85H192.98V151.37H187.47zM132.99 152.67H138.50V158.18H132.99zM139.80 152.67H145.31V158.18H139.80zM153.42 152.67H158.93V158.18H153.42zM180.66 152.67H186.17V158.18H180.66zM194.28 152.67H199.79V158.18H194.28zM112.56 159.48H118.07V164.99H112.56zM126.18 159.48H131.69V164.99H126.18zM132.99 159.48H138.50V164.99H132.99zM139.80 159.48H145.31V164.99H139.80zM167.04 159.48H172.55V164.99H167.04zM51.27 166.29H56.78V171.81H51.27zM17.22 173.11H22.73V178.62H17.22zM30.84 173.11H36.35V178.62H30.84zM44.46 173.11H49.97V178.62H44.46zM187.47 173.11H192.98V178.62H187.47zM17.22 179.92H22.73V185.43H17.22zM37.65 179.92H43.16V185.43H37.65zM64.89 179.92H70.40V185.43H64.89zM153.42 179.92H158.93V185.43H153.42zM17.22 186.73H22.73V192.24H17.22zM30.84 186.73H36.35V192.24H30.84zM37.65 186.73H43.16V192.24H37.65zM64.89 186.73H70.40V192.24H64.89zM17.22 193.54H22.73V199.06H17.22zM24.03 193.54H29.54V199.06H24.03zM146.61 193.54H152.12V199.06H146.61zM3.60 200.36H9.11V205.87H3.60zM37.65 200.36H43.16V205.87H37.65zM64.89 200.36H70.40V205.87H64.89zM85.32 200.36H90.83V205.87H85.32zM92.13 200.36H97.64V205.87H92.13zM146.61 200.36H152.12V205.87H146.61zM92.13 207.17H97.64V212.68H92.13zM167.04 207.17H172.55V212.68H167.04zM37.65 213.98H43.16V219.50H37.65zM112.56 213.98H118.07V219.50H112.56zM119.37 213.98H124.88V219.50H119.37zM126.18 213.98H131.69V219.50H126.18zM139.80 213.98H145.31V219.50H139.80zM153.42 213.98H158.93V219.50H153.42zM71.70 220.80H77.21V226.31H71.70zM92.13 220.80H97.64V226.31H92.13zM132.99 220.80H138.50V226.31H132.99zM146.61 220.80H152.12V226.31H146.61zM160.23 220.80H165.74V226.31H160.23zM58.08 227.61H63.59V233.12H58.08zM119.37 227.61H124.88V233.12H119.37zM126.18 227.61H131.69V233.12H126.18zM132.99 227.61H138.50V233.12H132.99zM146.61 227.61H152.12V233.12H146.61zM153.42 227.61H158.93V233.12H153.42zM160.23 227.61H165.74V233.12H160.23zM187.47 227.61H192.98V233.12H187.47zM119.37 234.42H124.88V239.94H119.37zM139.80 234.42H145.31V239.94H139.80zM153.42 234.42H158.93V239.94H153.42zM187.47 234.42H192.98V239.94H187.47zM194.28 234.42H199.79V239.94H194.28zM126.18 241.24H131.69V246.75H126.18zM146.61 241.24H152.12V246.75H146.61zM194.28 241.24H199.79V246.75H194.28zM58.08 248.05H63.59V253.56H58.08zM92.13 248.05H97.64V253.56H92.13zM153.42 248.05H158.93V253.56H153.42zM160.23 248.05H165.74V253.56H160.23zM173.85 248.05H179.36V253.56H173.85zM180.66 248.05H186.17V253.56H180.66zM37.65 254.86H43.16V260.38H37.65zM112.56 254.86H118.07V260.38H112.56zM119.37 254.86H124.88V260.38H119.37zM119.37 261.67H124.88V267.19H119.37zM132.99 261.67H138.50V267.19H132.99zM160.23 261.67H165.74V267.19H160.23zM187.47 261.67H192.98V267.19H187.47zM112.56 268.49H118.07V274.00H112.56zM132.99 268.49H138.50V274.00H132.99zM139.80 268.49H145.31V274.00H139.80zM153.42 268.49H158.93V274.00H153.42zM167.04 268.49H172.55V274.00H167.04zM173.85 268.49H179.36V274.00H173.85zM119.37 275.30H124.88V280.81H119.37zM167.04 275.30H172.55V280.81H167.04zM180.66 275.30H186.17V280.81H180.66zM187.47 275.30H192.98V280.81H187.47zM194.28 275.30H199.79V280.81H194.28zM119.37 282.11H124.88V287.63H119.37zM132.99 282.11H138.50V287.63H132.99zM139.80 282.11H145.31V287.63H139.80zM167.04 282.11H172.55V287.63H167.04zM187.47 282.11H192.98V287.63H187.47zM112.56 288.93H118.07V294.44H112.56zM139.80 288.93H145.31V294.44H139.80zM173.85 288.93H179.36V294.44H173.85zM92.13 295.74H97.64V301.25H92.13zM112.56 295.74H118.07V301.25H112.56zM139.80 295.74H145.31V301.25H139.80zM167.04 295.74H172.55V301.25H167.04zM173.85 295.74H179.36V301.25H173.85z" fill="#f4909a"/>
<path d="M160.23 91.35H165.74V96.86H160.23zM173.85 98.16H179.36V103.68H173.85zM132.99 104.98H138.50V110.49H132.99zM180.66 104.98H186.17V110.49H180.66zM112.56 111.79H118.07V117.30H112.56zM194.28 118.60H199.79V124.11H194.28zM160.23 125.42H165.74V130.93H160.23zM132.99 132.23H138.50V137.74H132.99zM160.23 132.23H165.74V137.74H160.23zM167.04 139.04H172.55V144.55H167.04zM167.04 145.85H172.55V151.37H167.04zM180.66 145.85H186.17V151.37H180.66zM173.85 152.67H179.36V158.18H173.85zM160.23 159.48H165.74V164.99H160.23zM58.08 166.29H63.59V171.81H58.08zM64.89 166.29H70.40V171.81H64.89zM105.75 166.29H111.26V171.81H105.75zM64.89 173.11H70.40V178.62H64.89zM51.27 179.92H56.78V185.43H51.27zM58.08 179.92H63.59V185.43H58.08zM24.03 186.73H29.54V192.24H24.03zM30.84 193.54H36.35V199.06H30.84zM58.08 200.36H63.59V205.87H58.08zM126.18 207.17H131.69V212.68H126.18zM153.42 207.17H158.93V212.68H153.42zM160.23 207.17H165.74V212.68H160.23zM173.85 207.17H179.36V212.68H173.85zM132.99 213.98H138.50V219.50H132.99zM160.23 213.98H165.74V219.50H160.23zM126.18 220.80H131.69V226.31H126.18zM167.04 220.80H172.55V226.31H167.04zM173.85 227.61H179.36V233.12H173.85zM132.99 234.42H138.50V239.94H132.99zM160.23 234.42H165.74V239.94H160.23zM180.66 234.42H186.17V239.94H180.66zM112.56 241.24H118.07V246.75H112.56zM139.80 241.24H145.31V246.75H139.80zM160.23 241.24H165.74V246.75H160.23zM112.56 248.05H118.07V253.56H112.56zM126.18 248.05H131.69V253.56H126.18zM167.04 248.05H172.55V253.56H167.04zM153.42 254.86H158.93V260.38H153.42zM173.85 254.86H179.36V260.38H173.85zM126.18 261.67H131.69V267.19H126.18zM167.04 261.67H172.55V267.19H167.04zM160.23 268.49H165.74V274.00H160.23zM180.66 268.49H186.17V274.00H180.66zM112.56 275.30H118.07V280.81H112.56zM126.18 275.30H131.69V280.81H126.18zM153.42 275.30H158.93V280.81H153.42zM160.23 275.30H165.74V280.81H160.23zM112.56 282.11H118.07V287.63H112.56zM146.61 282.11H152.12V287.63H146.61zM180.66 282.11H186.17V287.63H180.66zM126.18 288.93H131.69V294.44H126.18zM132.99 288.93H138.50V294.44H132.99zM160.23 288.93H165.74V294.44H160.23zM187.47 288.93H192.98V294.44H187.47zM126.18 295.74H131.69V301.25H126.18zM132.99 295.74H138.50V301.25H132.99zM153.42 295.74H158.93V301.25H153.42zM160.23 295.74H165.74V301.25H160.23zM187.47 295.74H192.98V301.25H187.47z" fill="#dc0c10"/>
<path d="M194.28 91.35H199.79V96.86H194.28zM180.66 98.16H186.17V103.68H180.66zM126.18 118.60H131.69V124.11H126.18zM146.61 118.60H152.12V124.11H146.61zM112.56 125.42H118.07V130.93H112.56zM153.42 125.42H158.93V130.93H153.42zM112.56 132.23H118.07V137.74H112.56zM126.18 132.23H131.69V137.74H126.18zM173.85 159.48H179.36V164.99H173.85zM17.22 166.29H22.73V171.81H17.22zM30.84 166.29H36.35V171.81H30.84zM37.65 166.29H43.16V171.81H37.65zM71.70 166.29H77.21V171.81H71.70zM92.13 166.29H97.64V171.81H92.13zM153.42 166.29H158.93V171.81H153.42zM58.08 173.11H63.59V178.62H58.08zM44.46 179.92H49.97V185.43H44.46zM71.70 186.73H77.21V192.24H71.70zM44.46 193.54H49.97V199.06H44.46zM51.27 193.54H56.78V199.06H51.27zM98.94 193.54H104.45V199.06H98.94zM30.84 200.36H36.35V205.87H30.84zM44.46 200.36H49.97V205.87H44.46zM51.27 200.36H56.78V205.87H51.27zM98.94 200.36H104.45V205.87H98.94zM112.56 207.17H118.07V212.68H112.56zM112.56 220.80H118.07V226.31H112.56zM194.28 220.80H199.79V226.31H194.28zM126.18 234.42H131.69V239.94H126.18zM180.66 241.24H186.17V246.75H180.66zM139.80 254.86H145.31V260.38H139.80zM160.23 254.86H165.74V260.38H160.23zM112.56 261.67H118.07V267.19H112.56zM173.85 275.30H179.36V280.81H173.85zM194.28 282.11H199.79V287.63H194.28zM37.65 288.93H43.16V294.44H37.65zM153.42 288.93H158.93V294.44H153.42zM37.65 295.74H43.16V301.25H37.65z" fill="#e42a2e"/>
<path d="M78.51 98.16H84.02V103.68H78.51zM119.37 98.16H124.88V103.68H119.37zM187.47 98.16H192.98V103.68H187.47zM78.51 104.98H84.02V110.49H78.51zM112.56 104.98H118.07V110.49H112.56zM119.37 104.98H124.88V110.49H119.37zM173.85 104.98H179.36V110.49H173.85zM30.84 111.79H36.35V117.30H30.84zM139.80 118.60H145.31V124.11H139.80zM173.85 118.60H179.36V124.11H173.85zM187.47 118.60H192.98V124.11H187.47zM146.61 125.42H152.12V130.93H146.61zM3.60 132.23H9.11V137.74H3.60zM24.03 132.23H29.54V137.74H24.03zM3.60 139.04H9.11V144.55H3.60zM153.42 139.04H158.93V144.55H153.42zM98.94 145.85H104.45V151.37H98.94zM139.80 145.85H145.31V151.37H139.80zM98.94 152.67H104.45V158.18H98.94zM105.75 152.67H111.26V158.18H105.75zM187.47 152.67H192.98V158.18H187.47zM3.60 173.11H9.11V178.62H3.60zM24.03 173.11H29.54V178.62H24.03zM37.65 173.11H43.16V178.62H37.65zM85.32 173.11H90.83V178.62H85.32zM153.42 173.11H158.93V178.62H153.42zM187.47 179.92H192.98V185.43H187.47zM3.60 186.73H9.11V192.24H3.60zM98.94 186.73H104.45V192.24H98.94zM105.75 186.73H111.26V192.24H105.75zM146.61 186.73H152.12V192.24H146.61zM37.65 193.54H43.16V199.06H37.65zM64.89 193.54H70.40V199.06H64.89zM71.70 193.54H77.21V199.06H71.70zM105.75 193.54H111.26V199.06H105.75zM119.37 193.54H124.88V199.06H119.37zM71.70 200.36H77.21V205.87H71.70zM105.75 200.36H111.26V205.87H105.75zM194.28 200.36H199.79V205.87H194.28zM64.89 207.17H70.40V212.68H64.89zM187.47 207.17H192.98V212.68H187.47zM92.13 213.98H97.64V219.50H92.13zM187.47 220.80H192.98V226.31H187.47zM64.89 227.61H70.40V233.12H64.89zM92.13 227.61H97.64V233.12H92.13zM112.56 227.61H118.07V233.12H112.56zM139.80 227.61H145.31V233.12H139.80zM37.65 234.42H43.16V239.94H37.65zM51.27 234.42H56.78V239.94H51.27zM98.94 234.42H104.45V239.94H98.94zM167.04 241.24H172.55V246.75H167.04zM71.70 248.05H77.21V253.56H71.70zM139.80 248.05H145.31V253.56H139.80zM146.61 248.05H152.12V253.56H146.61zM71.70 261.67H77.21V267.19H71.70zM146.61 261.67H152.12V267.19H146.61zM3.60 268.49H9.11V274.00H3.60zM92.13 268.49H97.64V274.00H92.13zM98.94 268.49H104.45V274.00H98.94zM119.37 268.49H124.88V274.00H119.37zM146.61 268.49H152.12V274.00H146.61zM37.65 275.30H43.16V280.81H37.65zM3.60 282.11H9.11V287.63H3.60zM10.41 282.11H15.92V287.63H10.41zM17.22 282.11H22.73V287.63H17.22zM24.03 282.11H29.54V287.63H24.03zM173.85 282.11H179.36V287.63H173.85zM10.41 288.93H15.92V294.44H10.41zM92.13 288.93H97.64V294.44H92.13zM167.04 288.93H172.55V294.44H167.04zM10.41 295.74H15.92V301.25H10.41z" fill="#f6d2ea"/>
<path d="M132.99 118.60H138.50V124.11H132.99zM160.23 152.67H165.74V158.18H160.23z" fill="#f2eefa"/>
</g>
<text x="207.00" y="45.60" font-size="6.9" text-anchor="start" fill="#2a2a2a" font-weight="normal" font-style="normal" >HOXA9</text>
<text x="207.00" y="52.38" font-size="6.9" text-anchor="start" fill="#2a2a2a" font-weight="normal" font-style="normal" >HOXA7</text>
<text x="207.00" y="59.16" font-size="6.9" text-anchor="start" fill="#2a2a2a" font-weight="normal" font-style="normal" >HOXA9.</text>
<text x="207.00" y="65.94" font-size="6.9" text-anchor="start" fill="#2a2a2a" font-weight="normal" font-style="normal" >HOXA10</text>
<text x="207.00" y="72.72" font-size="6.9" text-anchor="start" fill="#2a2a2a" font-weight="normal" font-style="normal" >HOXA5</text>
<text x="207.00" y="79.50" font-size="6.9" text-anchor="start" fill="#2a2a2a" font-weight="normal" font-style="normal" >HOXA3</text>
<text x="207.00" y="96.60" font-size="6.9" text-anchor="start" fill="#2a2a2a" font-weight="normal" font-style="normal" >HOXA10.</text>
<text x="207.00" y="103.46" font-size="6.9" text-anchor="start" fill="#2a2a2a" font-weight="normal" font-style="normal" >unknown (1569348_at)</text>
<text x="207.00" y="110.32" font-size="6.9" text-anchor="start" fill="#2a2a2a" font-weight="normal" font-style="normal" >SPINK2</text>
<text x="207.00" y="117.18" font-size="6.9" text-anchor="start" fill="#2a2a2a" font-weight="normal" font-style="normal" >HOXA4</text>
<text x="207.00" y="124.04" font-size="6.9" text-anchor="start" fill="#2a2a2a" font-weight="normal" font-style="normal" >HOXB9</text>
<text x="207.00" y="130.90" font-size="6.9" text-anchor="start" fill="#2a2a2a" font-weight="normal" font-style="normal" >HOXA7.</text>
<text x="207.00" y="137.76" font-size="6.9" text-anchor="start" fill="#2a2a2a" font-weight="normal" font-style="normal" >unknown (240930_at)</text>
<text x="207.00" y="144.62" font-size="6.9" text-anchor="start" fill="#2a2a2a" font-weight="normal" font-style="normal" >CPNE8</text>
<text x="207.00" y="151.48" font-size="6.9" text-anchor="start" fill="#2a2a2a" font-weight="normal" font-style="normal" >unknown (241706_at)</text>
<text x="207.00" y="158.34" font-size="6.9" text-anchor="start" fill="#2a2a2a" font-weight="normal" font-style="normal" >PNMAL1</text>
<text x="207.00" y="165.20" font-size="6.9" text-anchor="start" fill="#2a2a2a" font-weight="normal" font-style="normal" >unknown (240116_at)</text>
<text x="207.00" y="172.06" font-size="6.9" text-anchor="start" fill="#2a2a2a" font-weight="normal" font-style="normal" >IRXA1</text>
<text x="207.00" y="178.92" font-size="6.9" text-anchor="start" fill="#2a2a2a" font-weight="normal" font-style="normal" >unknown (229716_at)</text>
<text x="207.00" y="185.78" font-size="6.9" text-anchor="start" fill="#2a2a2a" font-weight="normal" font-style="normal" >PRDX4</text>
<text x="207.00" y="192.64" font-size="6.9" text-anchor="start" fill="#2a2a2a" font-weight="normal" font-style="normal" >CPVL</text>
<text x="207.00" y="199.50" font-size="6.9" text-anchor="start" fill="#2a2a2a" font-weight="normal" font-style="normal" >JMY</text>
<text x="207.00" y="206.36" font-size="6.9" text-anchor="start" fill="#2a2a2a" font-weight="normal" font-style="normal" >JMY.</text>
<text x="207.00" y="213.22" font-size="6.9" text-anchor="start" fill="#2a2a2a" font-weight="normal" font-style="normal" >IGFBP8</text>
<text x="207.00" y="220.08" font-size="6.9" text-anchor="start" fill="#2a2a2a" font-weight="normal" font-style="normal" >H2BFQ</text>
<text x="207.00" y="226.94" font-size="6.9" text-anchor="start" fill="#2a2a2a" font-weight="normal" font-style="normal" >LMO5.</text>
<text x="207.00" y="233.80" font-size="6.9" text-anchor="start" fill="#2a2a2a" font-weight="normal" font-style="normal" >VAT1L</text>
<text x="207.00" y="240.66" font-size="6.9" text-anchor="start" fill="#2a2a2a" font-weight="normal" font-style="normal" >unknown (238662_at)</text>
<text x="207.00" y="247.52" font-size="6.9" text-anchor="start" fill="#2a2a2a" font-weight="normal" font-style="normal" >CRAMP1L</text>
<text x="207.00" y="254.38" font-size="6.9" text-anchor="start" fill="#2a2a2a" font-weight="normal" font-style="normal" >LMO5</text>
<text x="207.00" y="261.24" font-size="6.9" text-anchor="start" fill="#2a2a2a" font-weight="normal" font-style="normal" >unknown (242201_at)</text>
<text x="207.00" y="268.10" font-size="6.9" text-anchor="start" fill="#2a2a2a" font-weight="normal" font-style="normal" >EMR2</text>
<text x="207.00" y="274.96" font-size="6.9" text-anchor="start" fill="#2a2a2a" font-weight="normal" font-style="normal" >unknown (1557164_a_at)</text>
<text x="207.00" y="281.82" font-size="6.9" text-anchor="start" fill="#2a2a2a" font-weight="normal" font-style="normal" >unknown (1556599_s_at)</text>
<text x="207.00" y="288.68" font-size="6.9" text-anchor="start" fill="#2a2a2a" font-weight="normal" font-style="normal" >RUNX2</text>
<text x="207.00" y="295.54" font-size="6.9" text-anchor="start" fill="#2a2a2a" font-weight="normal" font-style="normal" >H2AFQ</text>
<text x="207.00" y="302.40" font-size="6.9" text-anchor="start" fill="#2a2a2a" font-weight="normal" font-style="normal" >H2A.2</text>
<rect x="34.60" y="308.6" width="13.30" height="3.4" fill="#22087e"/>
<rect x="47.70" y="308.6" width="10.30" height="3.4" fill="#2418c8"/>
<rect x="57.80" y="308.6" width="11.60" height="3.4" fill="#6060de"/>
<rect x="69.20" y="308.6" width="11.80" height="3.4" fill="#9292ec"/>
<rect x="80.80" y="308.6" width="10.90" height="3.4" fill="#d4d4f4"/>
<rect x="91.50" y="308.6" width="12.00" height="3.4" fill="#f0eef8"/>
<rect x="103.30" y="308.6" width="11.40" height="3.4" fill="#f8e2ee"/>
<rect x="114.50" y="308.6" width="11.70" height="3.4" fill="#f4b0b4"/>
<rect x="126.00" y="308.6" width="11.60" height="3.4" fill="#f08c8c"/>
<rect x="137.40" y="308.6" width="11.80" height="3.4" fill="#e85454"/>
<rect x="149.00" y="308.6" width="11.60" height="3.4" fill="#e03636"/>
<rect x="160.40" y="308.6" width="11.80" height="3.4" fill="#d00c0c"/>
<line x1="91.50" y1="308.6" x2="91.50" y2="312.0" stroke="#000" stroke-opacity="0.45" stroke-width="0.7"/>
<line x1="103.30" y1="308.6" x2="103.30" y2="312.0" stroke="#000" stroke-opacity="0.45" stroke-width="0.7"/>
<line x1="114.50" y1="308.6" x2="114.50" y2="312.0" stroke="#000" stroke-opacity="0.45" stroke-width="0.7"/>
<line x1="126.00" y1="308.6" x2="126.00" y2="312.0" stroke="#000" stroke-opacity="0.45" stroke-width="0.7"/>
<line x1="137.40" y1="308.6" x2="137.40" y2="312.0" stroke="#000" stroke-opacity="0.45" stroke-width="0.7"/>
<line x1="149.00" y1="308.6" x2="149.00" y2="312.0" stroke="#000" stroke-opacity="0.45" stroke-width="0.7"/>
<line x1="160.40" y1="308.6" x2="160.40" y2="312.0" stroke="#000" stroke-opacity="0.45" stroke-width="0.7"/>
<text x="295.00" y="9.90" font-size="13.4" text-anchor="start" fill="#000" font-weight="bold" font-style="normal" >C</text>
<line x1="339.5" y1="37.7" x2="339.5" y2="197.0" stroke="#444" stroke-width="1"/>
<line x1="335.4" y1="190.50" x2="339.5" y2="190.50" stroke="#444" stroke-width="0.9"/>
<text x="0" y="0" font-size="6.4" text-anchor="middle" fill="#333" transform="translate(331.6 190.50) rotate(-90)">0.0</text>
<line x1="335.4" y1="161.16" x2="339.5" y2="161.16" stroke="#444" stroke-width="0.9"/>
<text x="0" y="0" font-size="6.4" text-anchor="middle" fill="#333" transform="translate(331.6 161.16) rotate(-90)">0.2</text>
<line x1="335.4" y1="131.82" x2="339.5" y2="131.82" stroke="#444" stroke-width="0.9"/>
<text x="0" y="0" font-size="6.4" text-anchor="middle" fill="#333" transform="translate(331.6 131.82) rotate(-90)">0.4</text>
<line x1="335.4" y1="102.48" x2="339.5" y2="102.48" stroke="#444" stroke-width="0.9"/>
<text x="0" y="0" font-size="6.4" text-anchor="middle" fill="#333" transform="translate(331.6 102.48) rotate(-90)">0.6</text>
<line x1="335.4" y1="73.14" x2="339.5" y2="73.14" stroke="#444" stroke-width="0.9"/>
<text x="0" y="0" font-size="6.4" text-anchor="middle" fill="#333" transform="translate(331.6 73.14) rotate(-90)">0.8</text>
<line x1="335.4" y1="43.80" x2="339.5" y2="43.80" stroke="#444" stroke-width="0.9"/>
<text x="0" y="0" font-size="6.4" text-anchor="middle" fill="#333" transform="translate(331.6 43.80) rotate(-90)">1.0</text>
<line x1="339.0" y1="196.5" x2="516.00" y2="196.5" stroke="#444" stroke-width="1"/>
<line x1="346.50" y1="196.5" x2="346.50" y2="200.3" stroke="#444" stroke-width="0.9"/>
<text x="346.50" y="212.00" font-size="6.4" text-anchor="middle" fill="#333" font-weight="normal" font-style="normal" >0</text>
<line x1="380.30" y1="196.5" x2="380.30" y2="200.3" stroke="#444" stroke-width="0.9"/>
<text x="380.30" y="212.00" font-size="6.4" text-anchor="middle" fill="#333" font-weight="normal" font-style="normal" >1</text>
<line x1="414.10" y1="196.5" x2="414.10" y2="200.3" stroke="#444" stroke-width="0.9"/>
<text x="414.10" y="212.00" font-size="6.4" text-anchor="middle" fill="#333" font-weight="normal" font-style="normal" >2</text>
<line x1="447.90" y1="196.5" x2="447.90" y2="200.3" stroke="#444" stroke-width="0.9"/>
<text x="447.90" y="212.00" font-size="6.4" text-anchor="middle" fill="#333" font-weight="normal" font-style="normal" >3</text>
<line x1="481.70" y1="196.5" x2="481.70" y2="200.3" stroke="#444" stroke-width="0.9"/>
<text x="481.70" y="212.00" font-size="6.4" text-anchor="middle" fill="#333" font-weight="normal" font-style="normal" >4</text>
<line x1="515.50" y1="196.5" x2="515.50" y2="200.3" stroke="#444" stroke-width="0.9"/>
<text x="515.50" y="212.00" font-size="6.4" text-anchor="middle" fill="#333" font-weight="normal" font-style="normal" >5</text>
<text x="431.00" y="228.00" font-size="6.4" text-anchor="middle" fill="#222" font-weight="normal" font-style="normal" >Years from dx</text>
<text x="0" y="0" font-size="6.4" text-anchor="middle" fill="#222" transform="translate(315.6 118.0) rotate(-90)">Proportion Relapsed</text>
<polyline points="339.70,190.50 360.30,190.50 360.30,178.28 363.30,178.28 363.30,164.09 364.10,164.09 364.10,153.82 366.40,153.82 366.40,141.60 367.50,141.60 367.50,129.38 374.50,129.38 374.50,117.15 377.60,117.15 377.60,104.92 392.00,104.92 392.00,92.70 413.90,92.70 413.90,80.48 517.00,80.48" fill="none" stroke="#444" stroke-width="0.95"/>
<polyline points="339.70,190.50 352.20,190.50 352.20,178.28 362.60,178.28 364.00,163.80 438.80,163.80 438.80,148.40 517.00,148.40" fill="none" stroke="#444" stroke-width="0.95"/>
<text x="431.80" y="71.80" font-size="6.9" text-anchor="start" fill="#222" font-weight="normal" font-style="normal" >t(4;11): <tspan font-style="italic">HOXA</tspan>-negative</text>
<text x="434.20" y="141.40" font-size="6.9" text-anchor="start" fill="#222" font-weight="normal" font-style="normal" >t(4;11): <tspan font-style="italic">HOXA</tspan>-positive</text>
<text x="485.40" y="192.30" font-size="6.9" text-anchor="start" fill="#222" font-weight="normal" font-style="normal" ><tspan font-style="italic">P</tspan> = .034</text>
<text x="1.30" y="337.60" font-size="13.4" text-anchor="start" fill="#000" font-weight="bold" font-style="normal" >B</text>
<text x="130.80" y="339.40" font-size="10.0" text-anchor="start" fill="#111" font-weight="normal" font-style="normal" textLength="32.0" lengthAdjust="spacingAndGlyphs" stroke="#111" stroke-width="0.08">HOXA9</text>
<rect x="72.40" y="371.70" width="11.20" height="106.30" fill="#d9d9d9" stroke="#9a9a9a" stroke-width="0.9"/>
<path d="M72.40 371.70H83.60V478.00" fill="none" stroke="#7a7a7a" stroke-width="0.9"/>
<rect x="88.90" y="378.70" width="11.20" height="99.30" fill="#d9d9d9" stroke="#9a9a9a" stroke-width="0.9"/>
<path d="M88.90 378.70H100.10V478.00" fill="none" stroke="#7a7a7a" stroke-width="0.9"/>
<rect x="106.30" y="383.00" width="11.20" height="95.00" fill="#d9d9d9" stroke="#9a9a9a" stroke-width="0.9"/>
<path d="M106.30 383.00H117.50V478.00" fill="none" stroke="#7a7a7a" stroke-width="0.9"/>
<rect x="123.50" y="384.80" width="11.20" height="93.20" fill="#d9d9d9" stroke="#9a9a9a" stroke-width="0.9"/>
<path d="M123.50 384.80H134.70V478.00" fill="none" stroke="#7a7a7a" stroke-width="0.9"/>
<rect x="140.70" y="390.30" width="11.20" height="87.70" fill="#d9d9d9" stroke="#9a9a9a" stroke-width="0.9"/>
<path d="M140.70 390.30H151.90V478.00" fill="none" stroke="#7a7a7a" stroke-width="0.9"/>
<rect x="169.10" y="452.90" width="11.20" height="25.10" fill="#ffffff" stroke="#959595" stroke-width="0.9"/>
<path d="M169.10 452.90H180.30V478.00" fill="none" stroke="#6e6e6e" stroke-width="0.9"/>
<rect x="185.80" y="445.50" width="11.20" height="32.50" fill="#ffffff" stroke="#959595" stroke-width="0.9"/>
<path d="M185.80 445.50H197.00V478.00" fill="none" stroke="#6e6e6e" stroke-width="0.9"/>
<rect x="203.50" y="452.90" width="11.20" height="25.10" fill="#ffffff" stroke="#959595" stroke-width="0.9"/>
<path d="M203.50 452.90H214.70V478.00" fill="none" stroke="#6e6e6e" stroke-width="0.9"/>
<rect x="220.70" y="452.90" width="11.20" height="25.10" fill="#ffffff" stroke="#959595" stroke-width="0.9"/>
<path d="M220.70 452.90H231.90V478.00" fill="none" stroke="#6e6e6e" stroke-width="0.9"/>
<rect x="237.80" y="440.60" width="11.20" height="37.40" fill="#ffffff" stroke="#959595" stroke-width="0.9"/>
<path d="M237.80 440.60H249.00V478.00" fill="none" stroke="#6e6e6e" stroke-width="0.9"/>
<line x1="62.70" y1="348.80" x2="62.70" y2="478.00" stroke="#444" stroke-width="1"/>
<line x1="62.70" y1="478.30" x2="257.30" y2="478.30" stroke="#333" stroke-width="0.9"/>
<line x1="60.90" y1="348.80" x2="62.70" y2="348.80" stroke="#555" stroke-width="0.8"/>
<text x="60.80" y="350.70" font-size="6.3" text-anchor="end" fill="#555" font-weight="normal" font-style="normal" >100</text>
<line x1="61.70" y1="366.83" x2="62.70" y2="366.83" stroke="#888" stroke-width="0.5"/>
<line x1="61.70" y1="362.29" x2="62.70" y2="362.29" stroke="#888" stroke-width="0.5"/>
<line x1="61.70" y1="359.07" x2="62.70" y2="359.07" stroke="#888" stroke-width="0.5"/>
<line x1="61.70" y1="356.57" x2="62.70" y2="356.57" stroke="#888" stroke-width="0.5"/>
<line x1="61.70" y1="354.52" x2="62.70" y2="354.52" stroke="#888" stroke-width="0.5"/>
<line x1="61.70" y1="352.80" x2="62.70" y2="352.80" stroke="#888" stroke-width="0.5"/>
<line x1="61.70" y1="351.30" x2="62.70" y2="351.30" stroke="#888" stroke-width="0.5"/>
<line x1="61.70" y1="349.98" x2="62.70" y2="349.98" stroke="#888" stroke-width="0.5"/>
<line x1="60.90" y1="374.60" x2="62.70" y2="374.60" stroke="#555" stroke-width="0.8"/>
<text x="60.80" y="376.50" font-size="6.3" text-anchor="end" fill="#555" font-weight="normal" font-style="normal" >10</text>
<line x1="61.70" y1="392.63" x2="62.70" y2="392.63" stroke="#888" stroke-width="0.5"/>
<line x1="61.70" y1="388.09" x2="62.70" y2="388.09" stroke="#888" stroke-width="0.5"/>
<line x1="61.70" y1="384.87" x2="62.70" y2="384.87" stroke="#888" stroke-width="0.5"/>
<line x1="61.70" y1="382.37" x2="62.70" y2="382.37" stroke="#888" stroke-width="0.5"/>
<line x1="61.70" y1="380.32" x2="62.70" y2="380.32" stroke="#888" stroke-width="0.5"/>
<line x1="61.70" y1="378.60" x2="62.70" y2="378.60" stroke="#888" stroke-width="0.5"/>
<line x1="61.70" y1="377.10" x2="62.70" y2="377.10" stroke="#888" stroke-width="0.5"/>
<line x1="61.70" y1="375.78" x2="62.70" y2="375.78" stroke="#888" stroke-width="0.5"/>
<line x1="60.90" y1="400.40" x2="62.70" y2="400.40" stroke="#555" stroke-width="0.8"/>
<text x="60.80" y="402.30" font-size="6.3" text-anchor="end" fill="#555" font-weight="normal" font-style="normal" >1</text>
<line x1="61.70" y1="418.43" x2="62.70" y2="418.43" stroke="#888" stroke-width="0.5"/>
<line x1="61.70" y1="413.89" x2="62.70" y2="413.89" stroke="#888" stroke-width="0.5"/>
<line x1="61.70" y1="410.67" x2="62.70" y2="410.67" stroke="#888" stroke-width="0.5"/>
<line x1="61.70" y1="408.17" x2="62.70" y2="408.17" stroke="#888" stroke-width="0.5"/>
<line x1="61.70" y1="406.12" x2="62.70" y2="406.12" stroke="#888" stroke-width="0.5"/>
<line x1="61.70" y1="404.40" x2="62.70" y2="404.40" stroke="#888" stroke-width="0.5"/>
<line x1="61.70" y1="402.90" x2="62.70" y2="402.90" stroke="#888" stroke-width="0.5"/>
<line x1="61.70" y1="401.58" x2="62.70" y2="401.58" stroke="#888" stroke-width="0.5"/>
<line x1="60.90" y1="426.20" x2="62.70" y2="426.20" stroke="#555" stroke-width="0.8"/>
<text x="60.80" y="428.10" font-size="6.3" text-anchor="end" fill="#555" font-weight="normal" font-style="normal" >0.1</text>
<line x1="61.70" y1="444.23" x2="62.70" y2="444.23" stroke="#888" stroke-width="0.5"/>
<line x1="61.70" y1="439.69" x2="62.70" y2="439.69" stroke="#888" stroke-width="0.5"/>
<line x1="61.70" y1="436.47" x2="62.70" y2="436.47" stroke="#888" stroke-width="0.5"/>
<line x1="61.70" y1="433.97" x2="62.70" y2="433.97" stroke="#888" stroke-width="0.5"/>
<line x1="61.70" y1="431.92" x2="62.70" y2="431.92" stroke="#888" stroke-width="0.5"/>
<line x1="61.70" y1="430.20" x2="62.70" y2="430.20" stroke="#888" stroke-width="0.5"/>
<line x1="61.70" y1="428.70" x2="62.70" y2="428.70" stroke="#888" stroke-width="0.5"/>
<line x1="61.70" y1="427.38" x2="62.70" y2="427.38" stroke="#888" stroke-width="0.5"/>
<line x1="60.90" y1="452.00" x2="62.70" y2="452.00" stroke="#555" stroke-width="0.8"/>
<text x="60.80" y="453.90" font-size="6.3" text-anchor="end" fill="#555" font-weight="normal" font-style="normal" >0.01</text>
<line x1="61.70" y1="470.03" x2="62.70" y2="470.03" stroke="#888" stroke-width="0.5"/>
<line x1="61.70" y1="465.49" x2="62.70" y2="465.49" stroke="#888" stroke-width="0.5"/>
<line x1="61.70" y1="462.27" x2="62.70" y2="462.27" stroke="#888" stroke-width="0.5"/>
<line x1="61.70" y1="459.77" x2="62.70" y2="459.77" stroke="#888" stroke-width="0.5"/>
<line x1="61.70" y1="457.72" x2="62.70" y2="457.72" stroke="#888" stroke-width="0.5"/>
<line x1="61.70" y1="456.00" x2="62.70" y2="456.00" stroke="#888" stroke-width="0.5"/>
<line x1="61.70" y1="454.50" x2="62.70" y2="454.50" stroke="#888" stroke-width="0.5"/>
<line x1="61.70" y1="453.18" x2="62.70" y2="453.18" stroke="#888" stroke-width="0.5"/>
<line x1="60.90" y1="477.80" x2="62.70" y2="477.80" stroke="#555" stroke-width="0.8"/>
<text x="60.80" y="479.70" font-size="6.3" text-anchor="end" fill="#555" font-weight="normal" font-style="normal" >0.001</text>
<line x1="78.00" y1="478.00" x2="78.00" y2="479.60" stroke="#777" stroke-width="0.6"/>
<line x1="94.50" y1="478.00" x2="94.50" y2="479.60" stroke="#777" stroke-width="0.6"/>
<line x1="111.90" y1="478.00" x2="111.90" y2="479.60" stroke="#777" stroke-width="0.6"/>
<line x1="129.10" y1="478.00" x2="129.10" y2="479.60" stroke="#777" stroke-width="0.6"/>
<line x1="146.30" y1="478.00" x2="146.30" y2="479.60" stroke="#777" stroke-width="0.6"/>
<line x1="174.70" y1="478.00" x2="174.70" y2="479.60" stroke="#777" stroke-width="0.6"/>
<line x1="191.40" y1="478.00" x2="191.40" y2="479.60" stroke="#777" stroke-width="0.6"/>
<line x1="209.10" y1="478.00" x2="209.10" y2="479.60" stroke="#777" stroke-width="0.6"/>
<line x1="226.30" y1="478.00" x2="226.30" y2="479.60" stroke="#777" stroke-width="0.6"/>
<line x1="243.40" y1="478.00" x2="243.40" y2="479.60" stroke="#777" stroke-width="0.6"/>
<text x="0" y="0" font-size="7.15" text-anchor="middle" fill="#111" letter-spacing="0.05" transform="translate(34.00 410.30) rotate(-90)"><tspan font-style="italic">HOXA9</tspan> expression relative to <tspan font-style="italic">B2M</tspan> (%)</text>
<rect x="208.8" y="353.0" width="8.4" height="3.0" fill="#d0d0d0" stroke="#555" stroke-width="0.8"/>
<rect x="208.8" y="361.6" width="8.4" height="3.0" fill="#fff" stroke="#777" stroke-width="0.8"/>
<text x="221.80" y="356.40" font-size="5.8" text-anchor="start" fill="#777" font-weight="normal" font-style="normal" ><tspan font-style="italic">HOXA</tspan>-high</text>
<text x="221.80" y="365.00" font-size="5.8" text-anchor="start" fill="#777" font-weight="normal" font-style="normal" ><tspan font-style="italic">HOXA</tspan>-low</text>
<text x="392.50" y="337.70" font-size="10.0" text-anchor="start" fill="#111" font-weight="normal" font-style="normal" textLength="31.3" lengthAdjust="spacingAndGlyphs" stroke="#111" stroke-width="0.08">HOXA7</text>
<rect x="332.40" y="377.40" width="11.20" height="100.10" fill="#d9d9d9" stroke="#9a9a9a" stroke-width="0.9"/>
<path d="M332.40 377.40H343.60V477.50" fill="none" stroke="#7a7a7a" stroke-width="0.9"/>
<rect x="349.30" y="370.50" width="11.20" height="107.00" fill="#d9d9d9" stroke="#9a9a9a" stroke-width="0.9"/>
<path d="M349.30 370.50H360.50V477.50" fill="none" stroke="#7a7a7a" stroke-width="0.9"/>
<rect x="366.30" y="373.30" width="11.20" height="104.20" fill="#d9d9d9" stroke="#9a9a9a" stroke-width="0.9"/>
<path d="M366.30 373.30H377.50V477.50" fill="none" stroke="#7a7a7a" stroke-width="0.9"/>
<rect x="383.40" y="366.60" width="11.20" height="110.90" fill="#d9d9d9" stroke="#9a9a9a" stroke-width="0.9"/>
<path d="M383.40 366.60H394.60V477.50" fill="none" stroke="#7a7a7a" stroke-width="0.9"/>
<rect x="400.50" y="377.50" width="11.20" height="100.00" fill="#d9d9d9" stroke="#9a9a9a" stroke-width="0.9"/>
<path d="M400.50 377.50H411.70V477.50" fill="none" stroke="#7a7a7a" stroke-width="0.9"/>
<rect x="429.30" y="467.30" width="11.20" height="10.20" fill="#ffffff" stroke="#959595" stroke-width="0.9"/>
<path d="M429.30 467.30H440.50V477.50" fill="none" stroke="#6e6e6e" stroke-width="0.9"/>
<rect x="446.50" y="463.50" width="11.20" height="14.00" fill="#ffffff" stroke="#959595" stroke-width="0.9"/>
<path d="M446.50 463.50H457.70V477.50" fill="none" stroke="#6e6e6e" stroke-width="0.9"/>
<rect x="463.60" y="460.50" width="11.20" height="17.00" fill="#ffffff" stroke="#959595" stroke-width="0.9"/>
<path d="M463.60 460.50H474.80V477.50" fill="none" stroke="#6e6e6e" stroke-width="0.9"/>
<rect x="480.50" y="473.00" width="11.20" height="4.50" fill="#ffffff" stroke="#959595" stroke-width="0.9"/>
<path d="M480.50 473.00H491.70V477.50" fill="none" stroke="#6e6e6e" stroke-width="0.9"/>
<rect x="497.50" y="464.30" width="11.20" height="13.20" fill="#ffffff" stroke="#959595" stroke-width="0.9"/>
<path d="M497.50 464.30H508.70V477.50" fill="none" stroke="#6e6e6e" stroke-width="0.9"/>
<line x1="322.70" y1="348.80" x2="322.70" y2="477.50" stroke="#7a7a7a" stroke-width="1"/>
<line x1="322.70" y1="477.80" x2="517.50" y2="477.80" stroke="#333" stroke-width="0.9"/>
<line x1="320.90" y1="348.80" x2="322.70" y2="348.80" stroke="#555" stroke-width="0.8"/>
<text x="320.80" y="350.70" font-size="6.3" text-anchor="end" fill="#555" font-weight="normal" font-style="normal" >10</text>
<line x1="321.70" y1="371.24" x2="322.70" y2="371.24" stroke="#888" stroke-width="0.5"/>
<line x1="321.70" y1="365.58" x2="322.70" y2="365.58" stroke="#888" stroke-width="0.5"/>
<line x1="321.70" y1="361.57" x2="322.70" y2="361.57" stroke="#888" stroke-width="0.5"/>
<line x1="321.70" y1="358.46" x2="322.70" y2="358.46" stroke="#888" stroke-width="0.5"/>
<line x1="321.70" y1="355.92" x2="322.70" y2="355.92" stroke="#888" stroke-width="0.5"/>
<line x1="321.70" y1="353.77" x2="322.70" y2="353.77" stroke="#888" stroke-width="0.5"/>
<line x1="321.70" y1="351.91" x2="322.70" y2="351.91" stroke="#888" stroke-width="0.5"/>
<line x1="321.70" y1="350.27" x2="322.70" y2="350.27" stroke="#888" stroke-width="0.5"/>
<line x1="320.90" y1="380.90" x2="322.70" y2="380.90" stroke="#555" stroke-width="0.8"/>
<text x="320.80" y="382.80" font-size="6.3" text-anchor="end" fill="#555" font-weight="normal" font-style="normal" >1</text>
<line x1="321.70" y1="403.34" x2="322.70" y2="403.34" stroke="#888" stroke-width="0.5"/>
<line x1="321.70" y1="397.68" x2="322.70" y2="397.68" stroke="#888" stroke-width="0.5"/>
<line x1="321.70" y1="393.67" x2="322.70" y2="393.67" stroke="#888" stroke-width="0.5"/>
<line x1="321.70" y1="390.56" x2="322.70" y2="390.56" stroke="#888" stroke-width="0.5"/>
<line x1="321.70" y1="388.02" x2="322.70" y2="388.02" stroke="#888" stroke-width="0.5"/>
<line x1="321.70" y1="385.87" x2="322.70" y2="385.87" stroke="#888" stroke-width="0.5"/>
<line x1="321.70" y1="384.01" x2="322.70" y2="384.01" stroke="#888" stroke-width="0.5"/>
<line x1="321.70" y1="382.37" x2="322.70" y2="382.37" stroke="#888" stroke-width="0.5"/>
<line x1="320.90" y1="413.00" x2="322.70" y2="413.00" stroke="#555" stroke-width="0.8"/>
<text x="320.80" y="414.90" font-size="6.3" text-anchor="end" fill="#555" font-weight="normal" font-style="normal" >0.1</text>
<line x1="321.70" y1="435.44" x2="322.70" y2="435.44" stroke="#888" stroke-width="0.5"/>
<line x1="321.70" y1="429.78" x2="322.70" y2="429.78" stroke="#888" stroke-width="0.5"/>
<line x1="321.70" y1="425.77" x2="322.70" y2="425.77" stroke="#888" stroke-width="0.5"/>
<line x1="321.70" y1="422.66" x2="322.70" y2="422.66" stroke="#888" stroke-width="0.5"/>
<line x1="321.70" y1="420.12" x2="322.70" y2="420.12" stroke="#888" stroke-width="0.5"/>
<line x1="321.70" y1="417.97" x2="322.70" y2="417.97" stroke="#888" stroke-width="0.5"/>
<line x1="321.70" y1="416.11" x2="322.70" y2="416.11" stroke="#888" stroke-width="0.5"/>
<line x1="321.70" y1="414.47" x2="322.70" y2="414.47" stroke="#888" stroke-width="0.5"/>
<line x1="320.90" y1="445.10" x2="322.70" y2="445.10" stroke="#555" stroke-width="0.8"/>
<text x="320.80" y="447.00" font-size="6.3" text-anchor="end" fill="#555" font-weight="normal" font-style="normal" >0.01</text>
<line x1="321.70" y1="467.54" x2="322.70" y2="467.54" stroke="#888" stroke-width="0.5"/>
<line x1="321.70" y1="461.88" x2="322.70" y2="461.88" stroke="#888" stroke-width="0.5"/>
<line x1="321.70" y1="457.87" x2="322.70" y2="457.87" stroke="#888" stroke-width="0.5"/>
<line x1="321.70" y1="454.76" x2="322.70" y2="454.76" stroke="#888" stroke-width="0.5"/>
<line x1="321.70" y1="452.22" x2="322.70" y2="452.22" stroke="#888" stroke-width="0.5"/>
<line x1="321.70" y1="450.07" x2="322.70" y2="450.07" stroke="#888" stroke-width="0.5"/>
<line x1="321.70" y1="448.21" x2="322.70" y2="448.21" stroke="#888" stroke-width="0.5"/>
<line x1="321.70" y1="446.57" x2="322.70" y2="446.57" stroke="#888" stroke-width="0.5"/>
<line x1="320.90" y1="477.20" x2="322.70" y2="477.20" stroke="#555" stroke-width="0.8"/>
<text x="320.80" y="479.10" font-size="6.3" text-anchor="end" fill="#555" font-weight="normal" font-style="normal" >0.001</text>
<line x1="338.00" y1="477.50" x2="338.00" y2="479.10" stroke="#777" stroke-width="0.6"/>
<line x1="354.90" y1="477.50" x2="354.90" y2="479.10" stroke="#777" stroke-width="0.6"/>
<line x1="371.90" y1="477.50" x2="371.90" y2="479.10" stroke="#777" stroke-width="0.6"/>
<line x1="389.00" y1="477.50" x2="389.00" y2="479.10" stroke="#777" stroke-width="0.6"/>
<line x1="406.10" y1="477.50" x2="406.10" y2="479.10" stroke="#777" stroke-width="0.6"/>
<line x1="434.90" y1="477.50" x2="434.90" y2="479.10" stroke="#777" stroke-width="0.6"/>
<line x1="452.10" y1="477.50" x2="452.10" y2="479.10" stroke="#777" stroke-width="0.6"/>
<line x1="469.20" y1="477.50" x2="469.20" y2="479.10" stroke="#777" stroke-width="0.6"/>
<line x1="486.10" y1="477.50" x2="486.10" y2="479.10" stroke="#777" stroke-width="0.6"/>
<line x1="503.10" y1="477.50" x2="503.10" y2="479.10" stroke="#777" stroke-width="0.6"/>
<text x="0" y="0" font-size="7.15" text-anchor="middle" fill="#111" letter-spacing="0.05" transform="translate(297.70 410.50) rotate(-90)"><tspan font-style="italic">HOXA7</tspan> expression relative to <tspan font-style="italic">B2M</tspan> (%)</text>
<text x="130.90" y="508.80" font-size="10.0" text-anchor="start" fill="#111" font-weight="normal" font-style="normal" textLength="32.6" lengthAdjust="spacingAndGlyphs" stroke="#111" stroke-width="0.08">HOXA5</text>
<rect x="72.00" y="542.50" width="11.20" height="105.80" fill="#d9d9d9" stroke="#9a9a9a" stroke-width="0.9"/>
<path d="M72.00 542.50H83.20V648.30" fill="none" stroke="#7a7a7a" stroke-width="0.9"/>
<rect x="89.00" y="564.30" width="11.20" height="84.00" fill="#d9d9d9" stroke="#9a9a9a" stroke-width="0.9"/>
<path d="M89.00 564.30H100.20V648.30" fill="none" stroke="#7a7a7a" stroke-width="0.9"/>
<rect x="106.00" y="547.30" width="11.20" height="101.00" fill="#d9d9d9" stroke="#9a9a9a" stroke-width="0.9"/>
<path d="M106.00 547.30H117.20V648.30" fill="none" stroke="#7a7a7a" stroke-width="0.9"/>
<rect x="123.30" y="542.50" width="11.20" height="105.80" fill="#d9d9d9" stroke="#9a9a9a" stroke-width="0.9"/>
<path d="M123.30 542.50H134.50V648.30" fill="none" stroke="#7a7a7a" stroke-width="0.9"/>
<rect x="140.80" y="548.80" width="11.20" height="99.50" fill="#d9d9d9" stroke="#9a9a9a" stroke-width="0.9"/>
<path d="M140.80 548.80H152.00V648.30" fill="none" stroke="#7a7a7a" stroke-width="0.9"/>
<rect x="169.10" y="628.80" width="11.20" height="19.50" fill="#ffffff" stroke="#959595" stroke-width="0.9"/>
<path d="M169.10 628.80H180.30V648.30" fill="none" stroke="#6e6e6e" stroke-width="0.9"/>
<rect x="186.40" y="625.50" width="11.20" height="22.80" fill="#ffffff" stroke="#959595" stroke-width="0.9"/>
<path d="M186.40 625.50H197.60V648.30" fill="none" stroke="#6e6e6e" stroke-width="0.9"/>
<rect x="203.60" y="626.40" width="11.20" height="21.90" fill="#ffffff" stroke="#959595" stroke-width="0.9"/>
<path d="M203.60 626.40H214.80V648.30" fill="none" stroke="#6e6e6e" stroke-width="0.9"/>
<rect x="220.50" y="632.00" width="11.20" height="16.30" fill="#ffffff" stroke="#959595" stroke-width="0.9"/>
<path d="M220.50 632.00H231.70V648.30" fill="none" stroke="#6e6e6e" stroke-width="0.9"/>
<rect x="237.80" y="631.50" width="11.20" height="16.80" fill="#ffffff" stroke="#959595" stroke-width="0.9"/>
<path d="M237.80 631.50H249.00V648.30" fill="none" stroke="#6e6e6e" stroke-width="0.9"/>
<line x1="63.00" y1="519.30" x2="63.00" y2="648.30" stroke="#555" stroke-width="1"/>
<line x1="63.00" y1="648.60" x2="257.00" y2="648.60" stroke="#333" stroke-width="0.9"/>
<line x1="61.20" y1="519.30" x2="63.00" y2="519.30" stroke="#555" stroke-width="0.8"/>
<text x="61.10" y="521.20" font-size="6.3" text-anchor="end" fill="#555" font-weight="normal" font-style="normal" >10</text>
<line x1="62.00" y1="537.33" x2="63.00" y2="537.33" stroke="#888" stroke-width="0.5"/>
<line x1="62.00" y1="532.79" x2="63.00" y2="532.79" stroke="#888" stroke-width="0.5"/>
<line x1="62.00" y1="529.57" x2="63.00" y2="529.57" stroke="#888" stroke-width="0.5"/>
<line x1="62.00" y1="527.07" x2="63.00" y2="527.07" stroke="#888" stroke-width="0.5"/>
<line x1="62.00" y1="525.02" x2="63.00" y2="525.02" stroke="#888" stroke-width="0.5"/>
<line x1="62.00" y1="523.30" x2="63.00" y2="523.30" stroke="#888" stroke-width="0.5"/>
<line x1="62.00" y1="521.80" x2="63.00" y2="521.80" stroke="#888" stroke-width="0.5"/>
<line x1="62.00" y1="520.48" x2="63.00" y2="520.48" stroke="#888" stroke-width="0.5"/>
<line x1="61.20" y1="545.10" x2="63.00" y2="545.10" stroke="#555" stroke-width="0.8"/>
<text x="61.10" y="547.00" font-size="6.3" text-anchor="end" fill="#555" font-weight="normal" font-style="normal" >1</text>
<line x1="62.00" y1="563.13" x2="63.00" y2="563.13" stroke="#888" stroke-width="0.5"/>
<line x1="62.00" y1="558.59" x2="63.00" y2="558.59" stroke="#888" stroke-width="0.5"/>
<line x1="62.00" y1="555.37" x2="63.00" y2="555.37" stroke="#888" stroke-width="0.5"/>
<line x1="62.00" y1="552.87" x2="63.00" y2="552.87" stroke="#888" stroke-width="0.5"/>
<line x1="62.00" y1="550.82" x2="63.00" y2="550.82" stroke="#888" stroke-width="0.5"/>
<line x1="62.00" y1="549.10" x2="63.00" y2="549.10" stroke="#888" stroke-width="0.5"/>
<line x1="62.00" y1="547.60" x2="63.00" y2="547.60" stroke="#888" stroke-width="0.5"/>
<line x1="62.00" y1="546.28" x2="63.00" y2="546.28" stroke="#888" stroke-width="0.5"/>
<line x1="61.20" y1="570.90" x2="63.00" y2="570.90" stroke="#555" stroke-width="0.8"/>
<text x="61.10" y="572.80" font-size="6.3" text-anchor="end" fill="#555" font-weight="normal" font-style="normal" >0.1</text>
<line x1="62.00" y1="588.93" x2="63.00" y2="588.93" stroke="#888" stroke-width="0.5"/>
<line x1="62.00" y1="584.39" x2="63.00" y2="584.39" stroke="#888" stroke-width="0.5"/>
<line x1="62.00" y1="581.17" x2="63.00" y2="581.17" stroke="#888" stroke-width="0.5"/>
<line x1="62.00" y1="578.67" x2="63.00" y2="578.67" stroke="#888" stroke-width="0.5"/>
<line x1="62.00" y1="576.62" x2="63.00" y2="576.62" stroke="#888" stroke-width="0.5"/>
<line x1="62.00" y1="574.90" x2="63.00" y2="574.90" stroke="#888" stroke-width="0.5"/>
<line x1="62.00" y1="573.40" x2="63.00" y2="573.40" stroke="#888" stroke-width="0.5"/>
<line x1="62.00" y1="572.08" x2="63.00" y2="572.08" stroke="#888" stroke-width="0.5"/>
<line x1="61.20" y1="596.70" x2="63.00" y2="596.70" stroke="#555" stroke-width="0.8"/>
<text x="61.10" y="598.60" font-size="6.3" text-anchor="end" fill="#555" font-weight="normal" font-style="normal" >0.01</text>
<line x1="62.00" y1="614.73" x2="63.00" y2="614.73" stroke="#888" stroke-width="0.5"/>
<line x1="62.00" y1="610.19" x2="63.00" y2="610.19" stroke="#888" stroke-width="0.5"/>
<line x1="62.00" y1="606.97" x2="63.00" y2="606.97" stroke="#888" stroke-width="0.5"/>
<line x1="62.00" y1="604.47" x2="63.00" y2="604.47" stroke="#888" stroke-width="0.5"/>
<line x1="62.00" y1="602.42" x2="63.00" y2="602.42" stroke="#888" stroke-width="0.5"/>
<line x1="62.00" y1="600.70" x2="63.00" y2="600.70" stroke="#888" stroke-width="0.5"/>
<line x1="62.00" y1="599.20" x2="63.00" y2="599.20" stroke="#888" stroke-width="0.5"/>
<line x1="62.00" y1="597.88" x2="63.00" y2="597.88" stroke="#888" stroke-width="0.5"/>
<line x1="61.20" y1="622.50" x2="63.00" y2="622.50" stroke="#555" stroke-width="0.8"/>
<text x="61.10" y="624.40" font-size="6.3" text-anchor="end" fill="#555" font-weight="normal" font-style="normal" >0.001</text>
<line x1="62.00" y1="640.53" x2="63.00" y2="640.53" stroke="#888" stroke-width="0.5"/>
<line x1="62.00" y1="635.99" x2="63.00" y2="635.99" stroke="#888" stroke-width="0.5"/>
<line x1="62.00" y1="632.77" x2="63.00" y2="632.77" stroke="#888" stroke-width="0.5"/>
<line x1="62.00" y1="630.27" x2="63.00" y2="630.27" stroke="#888" stroke-width="0.5"/>
<line x1="62.00" y1="628.22" x2="63.00" y2="628.22" stroke="#888" stroke-width="0.5"/>
<line x1="62.00" y1="626.50" x2="63.00" y2="626.50" stroke="#888" stroke-width="0.5"/>
<line x1="62.00" y1="625.00" x2="63.00" y2="625.00" stroke="#888" stroke-width="0.5"/>
<line x1="62.00" y1="623.68" x2="63.00" y2="623.68" stroke="#888" stroke-width="0.5"/>
<line x1="61.20" y1="648.30" x2="63.00" y2="648.30" stroke="#555" stroke-width="0.8"/>
<text x="61.10" y="650.20" font-size="6.3" text-anchor="end" fill="#555" font-weight="normal" font-style="normal" >0.0001</text>
<line x1="77.60" y1="648.30" x2="77.60" y2="649.90" stroke="#777" stroke-width="0.6"/>
<line x1="94.60" y1="648.30" x2="94.60" y2="649.90" stroke="#777" stroke-width="0.6"/>
<line x1="111.60" y1="648.30" x2="111.60" y2="649.90" stroke="#777" stroke-width="0.6"/>
<line x1="128.90" y1="648.30" x2="128.90" y2="649.90" stroke="#777" stroke-width="0.6"/>
<line x1="146.40" y1="648.30" x2="146.40" y2="649.90" stroke="#777" stroke-width="0.6"/>
<line x1="174.70" y1="648.30" x2="174.70" y2="649.90" stroke="#777" stroke-width="0.6"/>
<line x1="192.00" y1="648.30" x2="192.00" y2="649.90" stroke="#777" stroke-width="0.6"/>
<line x1="209.20" y1="648.30" x2="209.20" y2="649.90" stroke="#777" stroke-width="0.6"/>
<line x1="226.10" y1="648.30" x2="226.10" y2="649.90" stroke="#777" stroke-width="0.6"/>
<line x1="243.40" y1="648.30" x2="243.40" y2="649.90" stroke="#777" stroke-width="0.6"/>
<text x="0" y="0" font-size="7.15" text-anchor="middle" fill="#111" letter-spacing="0.05" transform="translate(33.60 581.70) rotate(-90)"><tspan font-style="italic">HOXA5</tspan> expression relative to <tspan font-style="italic">B2M</tspan> (%)</text>
<text x="396.30" y="508.80" font-size="10.0" text-anchor="start" fill="#111" font-weight="normal" font-style="normal" textLength="32.5" lengthAdjust="spacingAndGlyphs" stroke="#111" stroke-width="0.08">HOXA3</text>
<rect x="335.80" y="524.80" width="11.20" height="123.20" fill="#d9d9d9" stroke="#9a9a9a" stroke-width="0.9"/>
<path d="M335.80 524.80H347.00V648.00" fill="none" stroke="#7a7a7a" stroke-width="0.9"/>
<rect x="352.80" y="521.80" width="11.20" height="126.20" fill="#d9d9d9" stroke="#9a9a9a" stroke-width="0.9"/>
<path d="M352.80 521.80H364.00V648.00" fill="none" stroke="#7a7a7a" stroke-width="0.9"/>
<rect x="369.80" y="523.30" width="11.20" height="124.70" fill="#d9d9d9" stroke="#9a9a9a" stroke-width="0.9"/>
<path d="M369.80 523.30H381.00V648.00" fill="none" stroke="#7a7a7a" stroke-width="0.9"/>
<rect x="386.80" y="527.50" width="11.20" height="120.50" fill="#d9d9d9" stroke="#9a9a9a" stroke-width="0.9"/>
<path d="M386.80 527.50H398.00V648.00" fill="none" stroke="#7a7a7a" stroke-width="0.9"/>
<rect x="403.80" y="531.80" width="11.20" height="116.20" fill="#d9d9d9" stroke="#9a9a9a" stroke-width="0.9"/>
<path d="M403.80 531.80H415.00V648.00" fill="none" stroke="#7a7a7a" stroke-width="0.9"/>
<rect x="433.00" y="618.50" width="11.20" height="29.50" fill="#ffffff" stroke="#959595" stroke-width="0.9"/>
<path d="M433.00 618.50H444.20V648.00" fill="none" stroke="#6e6e6e" stroke-width="0.9"/>
<rect x="449.80" y="615.30" width="11.20" height="32.70" fill="#ffffff" stroke="#959595" stroke-width="0.9"/>
<path d="M449.80 615.30H461.00V648.00" fill="none" stroke="#6e6e6e" stroke-width="0.9"/>
<rect x="466.80" y="613.80" width="11.20" height="34.20" fill="#ffffff" stroke="#959595" stroke-width="0.9"/>
<path d="M466.80 613.80H478.00V648.00" fill="none" stroke="#6e6e6e" stroke-width="0.9"/>
<rect x="483.80" y="618.50" width="11.20" height="29.50" fill="#ffffff" stroke="#959595" stroke-width="0.9"/>
<path d="M483.80 618.50H495.00V648.00" fill="none" stroke="#6e6e6e" stroke-width="0.9"/>
<rect x="500.80" y="608.80" width="11.20" height="39.20" fill="#ffffff" stroke="#959595" stroke-width="0.9"/>
<path d="M500.80 608.80H512.00V648.00" fill="none" stroke="#6e6e6e" stroke-width="0.9"/>
<line x1="326.80" y1="519.50" x2="326.80" y2="648.00" stroke="#707070" stroke-width="1"/>
<line x1="326.80" y1="648.30" x2="519.00" y2="648.30" stroke="#333" stroke-width="0.9"/>
<line x1="325.00" y1="519.50" x2="326.80" y2="519.50" stroke="#555" stroke-width="0.8"/>
<text x="324.90" y="521.40" font-size="6.3" text-anchor="end" fill="#555" font-weight="normal" font-style="normal" >1</text>
<line x1="325.80" y1="541.94" x2="326.80" y2="541.94" stroke="#888" stroke-width="0.5"/>
<line x1="325.80" y1="536.28" x2="326.80" y2="536.28" stroke="#888" stroke-width="0.5"/>
<line x1="325.80" y1="532.27" x2="326.80" y2="532.27" stroke="#888" stroke-width="0.5"/>
<line x1="325.80" y1="529.16" x2="326.80" y2="529.16" stroke="#888" stroke-width="0.5"/>
<line x1="325.80" y1="526.62" x2="326.80" y2="526.62" stroke="#888" stroke-width="0.5"/>
<line x1="325.80" y1="524.47" x2="326.80" y2="524.47" stroke="#888" stroke-width="0.5"/>
<line x1="325.80" y1="522.61" x2="326.80" y2="522.61" stroke="#888" stroke-width="0.5"/>
<line x1="325.80" y1="520.97" x2="326.80" y2="520.97" stroke="#888" stroke-width="0.5"/>
<line x1="325.00" y1="551.60" x2="326.80" y2="551.60" stroke="#555" stroke-width="0.8"/>
<text x="324.90" y="553.50" font-size="6.3" text-anchor="end" fill="#555" font-weight="normal" font-style="normal" >0.1</text>
<line x1="325.80" y1="574.04" x2="326.80" y2="574.04" stroke="#888" stroke-width="0.5"/>
<line x1="325.80" y1="568.38" x2="326.80" y2="568.38" stroke="#888" stroke-width="0.5"/>
<line x1="325.80" y1="564.37" x2="326.80" y2="564.37" stroke="#888" stroke-width="0.5"/>
<line x1="325.80" y1="561.26" x2="326.80" y2="561.26" stroke="#888" stroke-width="0.5"/>
<line x1="325.80" y1="558.72" x2="326.80" y2="558.72" stroke="#888" stroke-width="0.5"/>
<line x1="325.80" y1="556.57" x2="326.80" y2="556.57" stroke="#888" stroke-width="0.5"/>
<line x1="325.80" y1="554.71" x2="326.80" y2="554.71" stroke="#888" stroke-width="0.5"/>
<line x1="325.80" y1="553.07" x2="326.80" y2="553.07" stroke="#888" stroke-width="0.5"/>
<line x1="325.00" y1="583.70" x2="326.80" y2="583.70" stroke="#555" stroke-width="0.8"/>
<text x="324.90" y="585.60" font-size="6.3" text-anchor="end" fill="#555" font-weight="normal" font-style="normal" >0.01</text>
<line x1="325.80" y1="606.14" x2="326.80" y2="606.14" stroke="#888" stroke-width="0.5"/>
<line x1="325.80" y1="600.48" x2="326.80" y2="600.48" stroke="#888" stroke-width="0.5"/>
<line x1="325.80" y1="596.47" x2="326.80" y2="596.47" stroke="#888" stroke-width="0.5"/>
<line x1="325.80" y1="593.36" x2="326.80" y2="593.36" stroke="#888" stroke-width="0.5"/>
<line x1="325.80" y1="590.82" x2="326.80" y2="590.82" stroke="#888" stroke-width="0.5"/>
<line x1="325.80" y1="588.67" x2="326.80" y2="588.67" stroke="#888" stroke-width="0.5"/>
<line x1="325.80" y1="586.81" x2="326.80" y2="586.81" stroke="#888" stroke-width="0.5"/>
<line x1="325.80" y1="585.17" x2="326.80" y2="585.17" stroke="#888" stroke-width="0.5"/>
<line x1="325.00" y1="615.80" x2="326.80" y2="615.80" stroke="#555" stroke-width="0.8"/>
<text x="324.90" y="617.70" font-size="6.3" text-anchor="end" fill="#555" font-weight="normal" font-style="normal" >0.001</text>
<line x1="325.80" y1="638.24" x2="326.80" y2="638.24" stroke="#888" stroke-width="0.5"/>
<line x1="325.80" y1="632.58" x2="326.80" y2="632.58" stroke="#888" stroke-width="0.5"/>
<line x1="325.80" y1="628.57" x2="326.80" y2="628.57" stroke="#888" stroke-width="0.5"/>
<line x1="325.80" y1="625.46" x2="326.80" y2="625.46" stroke="#888" stroke-width="0.5"/>
<line x1="325.80" y1="622.92" x2="326.80" y2="622.92" stroke="#888" stroke-width="0.5"/>
<line x1="325.80" y1="620.77" x2="326.80" y2="620.77" stroke="#888" stroke-width="0.5"/>
<line x1="325.80" y1="618.91" x2="326.80" y2="618.91" stroke="#888" stroke-width="0.5"/>
<line x1="325.80" y1="617.27" x2="326.80" y2="617.27" stroke="#888" stroke-width="0.5"/>
<line x1="325.00" y1="647.90" x2="326.80" y2="647.90" stroke="#555" stroke-width="0.8"/>
<text x="324.90" y="649.80" font-size="6.3" text-anchor="end" fill="#555" font-weight="normal" font-style="normal" >0.0001</text>
<line x1="341.40" y1="648.00" x2="341.40" y2="649.60" stroke="#777" stroke-width="0.6"/>
<line x1="358.40" y1="648.00" x2="358.40" y2="649.60" stroke="#777" stroke-width="0.6"/>
<line x1="375.40" y1="648.00" x2="375.40" y2="649.60" stroke="#777" stroke-width="0.6"/>
<line x1="392.40" y1="648.00" x2="392.40" y2="649.60" stroke="#777" stroke-width="0.6"/>
<line x1="409.40" y1="648.00" x2="409.40" y2="649.60" stroke="#777" stroke-width="0.6"/>
<line x1="438.60" y1="648.00" x2="438.60" y2="649.60" stroke="#777" stroke-width="0.6"/>
<line x1="455.40" y1="648.00" x2="455.40" y2="649.60" stroke="#777" stroke-width="0.6"/>
<line x1="472.40" y1="648.00" x2="472.40" y2="649.60" stroke="#777" stroke-width="0.6"/>
<line x1="489.40" y1="648.00" x2="489.40" y2="649.60" stroke="#777" stroke-width="0.6"/>
<line x1="506.40" y1="648.00" x2="506.40" y2="649.60" stroke="#777" stroke-width="0.6"/>
<text x="0" y="0" font-size="7.15" text-anchor="middle" fill="#111" letter-spacing="0.05" transform="translate(299.60 581.70) rotate(-90)"><tspan font-style="italic">HOXA3</tspan> expression relative to <tspan font-style="italic">B2M</tspan> (%)</text>
<text x="128.10" y="681.70" font-size="10.0" text-anchor="start" fill="#111" font-weight="normal" font-style="normal" textLength="38.2" lengthAdjust="spacingAndGlyphs" stroke="#111" stroke-width="0.08">HOXA10</text>
<rect x="72.00" y="706.30" width="11.20" height="115.00" fill="#d9d9d9" stroke="#9a9a9a" stroke-width="0.9"/>
<path d="M72.00 706.30H83.20V821.30" fill="none" stroke="#7a7a7a" stroke-width="0.9"/>
<rect x="89.00" y="701.00" width="11.20" height="120.30" fill="#d9d9d9" stroke="#9a9a9a" stroke-width="0.9"/>
<path d="M89.00 701.00H100.20V821.30" fill="none" stroke="#7a7a7a" stroke-width="0.9"/>
<rect x="106.00" y="720.50" width="11.20" height="100.80" fill="#d9d9d9" stroke="#9a9a9a" stroke-width="0.9"/>
<path d="M106.00 720.50H117.20V821.30" fill="none" stroke="#7a7a7a" stroke-width="0.9"/>
<rect x="123.00" y="720.80" width="11.20" height="100.50" fill="#d9d9d9" stroke="#9a9a9a" stroke-width="0.9"/>
<path d="M123.00 720.80H134.20V821.30" fill="none" stroke="#7a7a7a" stroke-width="0.9"/>
<rect x="140.30" y="713.30" width="11.20" height="108.00" fill="#d9d9d9" stroke="#9a9a9a" stroke-width="0.9"/>
<path d="M140.30 713.30H151.50V821.30" fill="none" stroke="#7a7a7a" stroke-width="0.9"/>
<rect x="169.00" y="784.60" width="11.20" height="36.70" fill="#ffffff" stroke="#959595" stroke-width="0.9"/>
<path d="M169.00 784.60H180.20V821.30" fill="none" stroke="#6e6e6e" stroke-width="0.9"/>
<rect x="185.90" y="788.70" width="11.20" height="32.60" fill="#ffffff" stroke="#959595" stroke-width="0.9"/>
<path d="M185.90 788.70H197.10V821.30" fill="none" stroke="#6e6e6e" stroke-width="0.9"/>
<rect x="203.20" y="783.80" width="11.20" height="37.50" fill="#ffffff" stroke="#959595" stroke-width="0.9"/>
<path d="M203.20 783.80H214.40V821.30" fill="none" stroke="#6e6e6e" stroke-width="0.9"/>
<rect x="220.10" y="783.00" width="11.20" height="38.30" fill="#ffffff" stroke="#959595" stroke-width="0.9"/>
<path d="M220.10 783.00H231.30V821.30" fill="none" stroke="#6e6e6e" stroke-width="0.9"/>
<rect x="237.10" y="808.60" width="11.20" height="12.70" fill="#ffffff" stroke="#959595" stroke-width="0.9"/>
<path d="M237.10 808.60H248.30V821.30" fill="none" stroke="#6e6e6e" stroke-width="0.9"/>
<line x1="62.50" y1="692.00" x2="62.50" y2="821.30" stroke="#606060" stroke-width="1"/>
<line x1="62.50" y1="821.60" x2="255.00" y2="821.60" stroke="#333" stroke-width="0.9"/>
<line x1="60.70" y1="692.00" x2="62.50" y2="692.00" stroke="#555" stroke-width="0.8"/>
<text x="60.60" y="693.90" font-size="6.3" text-anchor="end" fill="#555" font-weight="normal" font-style="normal" >10</text>
<line x1="61.50" y1="710.03" x2="62.50" y2="710.03" stroke="#888" stroke-width="0.5"/>
<line x1="61.50" y1="705.49" x2="62.50" y2="705.49" stroke="#888" stroke-width="0.5"/>
<line x1="61.50" y1="702.27" x2="62.50" y2="702.27" stroke="#888" stroke-width="0.5"/>
<line x1="61.50" y1="699.77" x2="62.50" y2="699.77" stroke="#888" stroke-width="0.5"/>
<line x1="61.50" y1="697.72" x2="62.50" y2="697.72" stroke="#888" stroke-width="0.5"/>
<line x1="61.50" y1="696.00" x2="62.50" y2="696.00" stroke="#888" stroke-width="0.5"/>
<line x1="61.50" y1="694.50" x2="62.50" y2="694.50" stroke="#888" stroke-width="0.5"/>
<line x1="61.50" y1="693.18" x2="62.50" y2="693.18" stroke="#888" stroke-width="0.5"/>
<line x1="60.70" y1="717.80" x2="62.50" y2="717.80" stroke="#555" stroke-width="0.8"/>
<text x="60.60" y="719.70" font-size="6.3" text-anchor="end" fill="#555" font-weight="normal" font-style="normal" >1</text>
<line x1="61.50" y1="735.83" x2="62.50" y2="735.83" stroke="#888" stroke-width="0.5"/>
<line x1="61.50" y1="731.29" x2="62.50" y2="731.29" stroke="#888" stroke-width="0.5"/>
<line x1="61.50" y1="728.07" x2="62.50" y2="728.07" stroke="#888" stroke-width="0.5"/>
<line x1="61.50" y1="725.57" x2="62.50" y2="725.57" stroke="#888" stroke-width="0.5"/>
<line x1="61.50" y1="723.52" x2="62.50" y2="723.52" stroke="#888" stroke-width="0.5"/>
<line x1="61.50" y1="721.80" x2="62.50" y2="721.80" stroke="#888" stroke-width="0.5"/>
<line x1="61.50" y1="720.30" x2="62.50" y2="720.30" stroke="#888" stroke-width="0.5"/>
<line x1="61.50" y1="718.98" x2="62.50" y2="718.98" stroke="#888" stroke-width="0.5"/>
<line x1="60.70" y1="743.60" x2="62.50" y2="743.60" stroke="#555" stroke-width="0.8"/>
<text x="60.60" y="745.50" font-size="6.3" text-anchor="end" fill="#555" font-weight="normal" font-style="normal" >0.1</text>
<line x1="61.50" y1="761.63" x2="62.50" y2="761.63" stroke="#888" stroke-width="0.5"/>
<line x1="61.50" y1="757.09" x2="62.50" y2="757.09" stroke="#888" stroke-width="0.5"/>
<line x1="61.50" y1="753.87" x2="62.50" y2="753.87" stroke="#888" stroke-width="0.5"/>
<line x1="61.50" y1="751.37" x2="62.50" y2="751.37" stroke="#888" stroke-width="0.5"/>
<line x1="61.50" y1="749.32" x2="62.50" y2="749.32" stroke="#888" stroke-width="0.5"/>
<line x1="61.50" y1="747.60" x2="62.50" y2="747.60" stroke="#888" stroke-width="0.5"/>
<line x1="61.50" y1="746.10" x2="62.50" y2="746.10" stroke="#888" stroke-width="0.5"/>
<line x1="61.50" y1="744.78" x2="62.50" y2="744.78" stroke="#888" stroke-width="0.5"/>
<line x1="60.70" y1="769.40" x2="62.50" y2="769.40" stroke="#555" stroke-width="0.8"/>
<text x="60.60" y="771.30" font-size="6.3" text-anchor="end" fill="#555" font-weight="normal" font-style="normal" >0.01</text>
<line x1="61.50" y1="787.43" x2="62.50" y2="787.43" stroke="#888" stroke-width="0.5"/>
<line x1="61.50" y1="782.89" x2="62.50" y2="782.89" stroke="#888" stroke-width="0.5"/>
<line x1="61.50" y1="779.67" x2="62.50" y2="779.67" stroke="#888" stroke-width="0.5"/>
<line x1="61.50" y1="777.17" x2="62.50" y2="777.17" stroke="#888" stroke-width="0.5"/>
<line x1="61.50" y1="775.12" x2="62.50" y2="775.12" stroke="#888" stroke-width="0.5"/>
<line x1="61.50" y1="773.40" x2="62.50" y2="773.40" stroke="#888" stroke-width="0.5"/>
<line x1="61.50" y1="771.90" x2="62.50" y2="771.90" stroke="#888" stroke-width="0.5"/>
<line x1="61.50" y1="770.58" x2="62.50" y2="770.58" stroke="#888" stroke-width="0.5"/>
<line x1="60.70" y1="795.20" x2="62.50" y2="795.20" stroke="#555" stroke-width="0.8"/>
<text x="60.60" y="797.10" font-size="6.3" text-anchor="end" fill="#555" font-weight="normal" font-style="normal" >0.001</text>
<line x1="61.50" y1="813.23" x2="62.50" y2="813.23" stroke="#888" stroke-width="0.5"/>
<line x1="61.50" y1="808.69" x2="62.50" y2="808.69" stroke="#888" stroke-width="0.5"/>
<line x1="61.50" y1="805.47" x2="62.50" y2="805.47" stroke="#888" stroke-width="0.5"/>
<line x1="61.50" y1="802.97" x2="62.50" y2="802.97" stroke="#888" stroke-width="0.5"/>
<line x1="61.50" y1="800.92" x2="62.50" y2="800.92" stroke="#888" stroke-width="0.5"/>
<line x1="61.50" y1="799.20" x2="62.50" y2="799.20" stroke="#888" stroke-width="0.5"/>
<line x1="61.50" y1="797.70" x2="62.50" y2="797.70" stroke="#888" stroke-width="0.5"/>
<line x1="61.50" y1="796.38" x2="62.50" y2="796.38" stroke="#888" stroke-width="0.5"/>
<line x1="60.70" y1="821.00" x2="62.50" y2="821.00" stroke="#555" stroke-width="0.8"/>
<text x="60.60" y="822.90" font-size="6.3" text-anchor="end" fill="#555" font-weight="normal" font-style="normal" >0.0001</text>
<line x1="77.60" y1="821.30" x2="77.60" y2="822.90" stroke="#777" stroke-width="0.6"/>
<line x1="94.60" y1="821.30" x2="94.60" y2="822.90" stroke="#777" stroke-width="0.6"/>
<line x1="111.60" y1="821.30" x2="111.60" y2="822.90" stroke="#777" stroke-width="0.6"/>
<line x1="128.60" y1="821.30" x2="128.60" y2="822.90" stroke="#777" stroke-width="0.6"/>
<line x1="145.90" y1="821.30" x2="145.90" y2="822.90" stroke="#777" stroke-width="0.6"/>
<line x1="174.60" y1="821.30" x2="174.60" y2="822.90" stroke="#777" stroke-width="0.6"/>
<line x1="191.50" y1="821.30" x2="191.50" y2="822.90" stroke="#777" stroke-width="0.6"/>
<line x1="208.80" y1="821.30" x2="208.80" y2="822.90" stroke="#777" stroke-width="0.6"/>
<line x1="225.70" y1="821.30" x2="225.70" y2="822.90" stroke="#777" stroke-width="0.6"/>
<line x1="242.70" y1="821.30" x2="242.70" y2="822.90" stroke="#777" stroke-width="0.6"/>
<text x="0" y="0" font-size="7.15" text-anchor="middle" fill="#111" letter-spacing="0.05" transform="translate(33.60 754.50) rotate(-90)"><tspan font-style="italic">HOXA10</tspan> expression relative to <tspan font-style="italic">B2M</tspan> (%)</text>
</svg>
</body></html>
